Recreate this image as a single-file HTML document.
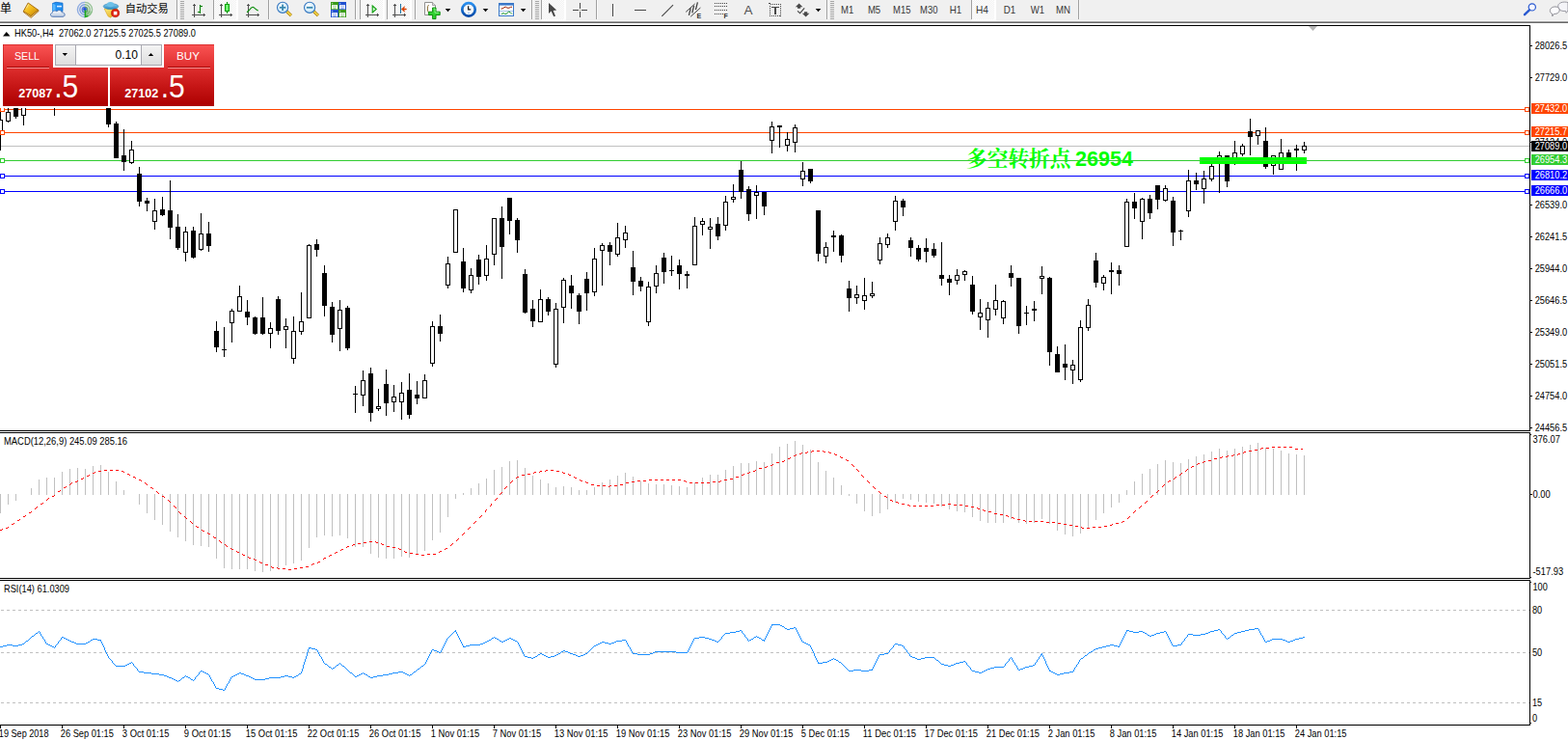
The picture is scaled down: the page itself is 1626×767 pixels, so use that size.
<!DOCTYPE html>
<html><head><meta charset="utf-8"><title>HK50-,H4</title>
<style>
html,body{margin:0;padding:0;background:#fff;}
body{width:1626px;height:767px;overflow:hidden;position:relative;font-family:"Liberation Sans",sans-serif;}
svg{display:block;}
svg text{font-family:"Liberation Sans",sans-serif;}
</style></head><body>
<svg id="chart" width="1626" height="767" viewBox="0 0 1626 767" style="position:absolute;left:0;top:0" font-family="Liberation Sans, sans-serif">
<g shape-rendering="crispEdges">
<rect x="0" y="26" width="1587" height="1" fill="#000"/>
<rect x="1586" y="26" width="1" height="726" fill="#000"/>
<rect x="0" y="446" width="1587" height="1" fill="#000"/>
<rect x="0" y="448" width="1587" height="1" fill="#000"/>
<rect x="1586" y="447" width="1" height="1" fill="#fff"/>
<rect x="0" y="599" width="1587" height="1" fill="#000"/>
<rect x="0" y="601" width="1587" height="1" fill="#000"/>
<rect x="1586" y="600" width="1" height="1" fill="#fff"/>
<rect x="0" y="751" width="1587" height="1" fill="#000"/>
<rect x="0" y="113" width="1586" height="1" fill="#ff4500"/>
<rect x="0" y="137" width="1586" height="1" fill="#ff4500"/>
<rect x="0" y="151" width="1586" height="1" fill="#c0c0c0"/>
<rect x="0" y="166" width="1586" height="1" fill="#32cd32"/>
<rect x="0" y="182" width="1586" height="1" fill="#0000ff"/>
<rect x="0" y="198" width="1586" height="1" fill="#0000ff"/>
</g>
<text x="1002" y="172.3" fill="#00ff00" font-size="21.6" text-anchor="start" font-weight="bold" textLength="108.5" lengthAdjust="spacingAndGlyphs" style="font-family:'Liberation Serif','Noto Serif CJK SC',serif">多空转折点</text>
<text x="1115" y="172.3" fill="#00ff00" font-size="21.3" text-anchor="start" font-weight="bold" textLength="60" lengthAdjust="spacingAndGlyphs">26954</text>
<g shape-rendering="crispEdges">
<rect x="1000" y="166" width="180" height="1" fill="#32cd32" opacity="0.8"/>
<rect x="0" y="100" width="1" height="56" fill="#000"/>
<rect x="-2" y="124" width="5" height="15" fill="#000"/>
<rect x="-1" y="125" width="3" height="13" fill="#fff"/>
<rect x="8" y="100" width="1" height="27" fill="#000"/>
<rect x="6" y="116" width="5" height="10" fill="#000"/>
<rect x="7" y="117" width="3" height="8" fill="#fff"/>
<rect x="16" y="100" width="1" height="23" fill="#000"/>
<rect x="14" y="100" width="5" height="21" fill="#000"/>
<rect x="24" y="100" width="1" height="30" fill="#000"/>
<rect x="22" y="100" width="5" height="20" fill="#000"/>
<rect x="23" y="101" width="3" height="18" fill="#fff"/>
<rect x="56" y="100" width="1" height="20" fill="#000"/>
<rect x="112" y="100" width="1" height="32" fill="#000"/>
<rect x="110" y="100" width="5" height="29" fill="#000"/>
<rect x="120" y="126" width="1" height="38" fill="#000"/>
<rect x="118" y="128" width="5" height="36" fill="#000"/>
<rect x="128" y="134" width="1" height="43" fill="#000"/>
<rect x="126" y="161" width="5" height="7" fill="#000"/>
<rect x="136" y="146" width="1" height="24" fill="#000"/>
<rect x="134" y="155" width="5" height="14" fill="#000"/>
<rect x="135" y="156" width="3" height="12" fill="#fff"/>
<rect x="144" y="173" width="1" height="41" fill="#000"/>
<rect x="142" y="180" width="5" height="29" fill="#000"/>
<rect x="152" y="205" width="1" height="14" fill="#000"/>
<rect x="150" y="208" width="5" height="3" fill="#000"/>
<rect x="160" y="206" width="1" height="32" fill="#000"/>
<rect x="158" y="218" width="5" height="12" fill="#000"/>
<rect x="159" y="219" width="3" height="10" fill="#fff"/>
<rect x="168" y="204" width="1" height="20" fill="#000"/>
<rect x="166" y="217" width="5" height="6" fill="#000"/>
<rect x="176" y="187" width="1" height="61" fill="#000"/>
<rect x="174" y="218" width="5" height="18" fill="#000"/>
<rect x="184" y="222" width="1" height="37" fill="#000"/>
<rect x="182" y="235" width="5" height="22" fill="#000"/>
<rect x="192" y="235" width="1" height="36" fill="#000"/>
<rect x="190" y="240" width="5" height="22" fill="#000"/>
<rect x="191" y="241" width="3" height="20" fill="#fff"/>
<rect x="200" y="235" width="1" height="33" fill="#000"/>
<rect x="198" y="239" width="5" height="28" fill="#000"/>
<rect x="208" y="221" width="1" height="39" fill="#000"/>
<rect x="206" y="242" width="5" height="17" fill="#000"/>
<rect x="207" y="243" width="3" height="15" fill="#fff"/>
<rect x="216" y="230" width="1" height="31" fill="#000"/>
<rect x="214" y="242" width="5" height="13" fill="#000"/>
<rect x="224" y="333" width="1" height="32" fill="#000"/>
<rect x="222" y="343" width="5" height="17" fill="#000"/>
<rect x="232" y="339" width="1" height="31" fill="#000"/>
<rect x="230" y="362" width="5" height="1" fill="#000"/>
<rect x="240" y="320" width="1" height="35" fill="#000"/>
<rect x="238" y="322" width="5" height="13" fill="#000"/>
<rect x="239" y="323" width="3" height="11" fill="#fff"/>
<rect x="248" y="296" width="1" height="27" fill="#000"/>
<rect x="246" y="307" width="5" height="16" fill="#000"/>
<rect x="247" y="308" width="3" height="14" fill="#fff"/>
<rect x="256" y="311" width="1" height="26" fill="#000"/>
<rect x="254" y="323" width="5" height="6" fill="#000"/>
<rect x="264" y="328" width="1" height="19" fill="#000"/>
<rect x="262" y="329" width="5" height="17" fill="#000"/>
<rect x="272" y="308" width="1" height="39" fill="#000"/>
<rect x="270" y="329" width="5" height="17" fill="#000"/>
<rect x="280" y="334" width="1" height="27" fill="#000"/>
<rect x="278" y="340" width="5" height="6" fill="#000"/>
<rect x="279" y="341" width="3" height="4" fill="#fff"/>
<rect x="288" y="307" width="1" height="40" fill="#000"/>
<rect x="286" y="310" width="5" height="33" fill="#000"/>
<rect x="296" y="330" width="1" height="31" fill="#000"/>
<rect x="294" y="338" width="5" height="4" fill="#000"/>
<rect x="295" y="339" width="3" height="2" fill="#fff"/>
<rect x="304" y="328" width="1" height="49" fill="#000"/>
<rect x="302" y="343" width="5" height="29" fill="#000"/>
<rect x="303" y="344" width="3" height="27" fill="#fff"/>
<rect x="312" y="303" width="1" height="44" fill="#000"/>
<rect x="310" y="333" width="5" height="11" fill="#000"/>
<rect x="311" y="334" width="3" height="9" fill="#fff"/>
<rect x="320" y="253" width="1" height="76" fill="#000"/>
<rect x="318" y="254" width="5" height="76" fill="#000"/>
<rect x="319" y="255" width="3" height="74" fill="#fff"/>
<rect x="328" y="248" width="1" height="18" fill="#000"/>
<rect x="326" y="253" width="5" height="6" fill="#000"/>
<rect x="336" y="275" width="1" height="53" fill="#000"/>
<rect x="334" y="283" width="5" height="34" fill="#000"/>
<rect x="344" y="313" width="1" height="42" fill="#000"/>
<rect x="342" y="318" width="5" height="29" fill="#000"/>
<rect x="352" y="311" width="1" height="53" fill="#000"/>
<rect x="350" y="321" width="5" height="20" fill="#000"/>
<rect x="351" y="322" width="3" height="18" fill="#fff"/>
<rect x="360" y="317" width="1" height="46" fill="#000"/>
<rect x="358" y="319" width="5" height="42" fill="#000"/>
<rect x="368" y="400" width="1" height="28" fill="#000"/>
<rect x="366" y="408" width="5" height="1" fill="#000"/>
<rect x="376" y="384" width="1" height="37" fill="#000"/>
<rect x="374" y="394" width="5" height="16" fill="#000"/>
<rect x="375" y="395" width="3" height="14" fill="#fff"/>
<rect x="384" y="381" width="1" height="56" fill="#000"/>
<rect x="382" y="387" width="5" height="41" fill="#000"/>
<rect x="392" y="403" width="1" height="23" fill="#000"/>
<rect x="390" y="421" width="5" height="3" fill="#000"/>
<rect x="391" y="422" width="3" height="1" fill="#fff"/>
<rect x="400" y="383" width="1" height="48" fill="#000"/>
<rect x="398" y="398" width="5" height="20" fill="#000"/>
<rect x="408" y="399" width="1" height="28" fill="#000"/>
<rect x="406" y="411" width="5" height="6" fill="#000"/>
<rect x="407" y="412" width="3" height="4" fill="#fff"/>
<rect x="416" y="396" width="1" height="39" fill="#000"/>
<rect x="414" y="407" width="5" height="10" fill="#000"/>
<rect x="415" y="408" width="3" height="8" fill="#fff"/>
<rect x="424" y="387" width="1" height="47" fill="#000"/>
<rect x="422" y="404" width="5" height="26" fill="#000"/>
<rect x="432" y="395" width="1" height="24" fill="#000"/>
<rect x="430" y="409" width="5" height="4" fill="#000"/>
<rect x="440" y="388" width="1" height="24" fill="#000"/>
<rect x="438" y="394" width="5" height="19" fill="#000"/>
<rect x="439" y="395" width="3" height="17" fill="#fff"/>
<rect x="448" y="333" width="1" height="47" fill="#000"/>
<rect x="446" y="338" width="5" height="39" fill="#000"/>
<rect x="447" y="339" width="3" height="37" fill="#fff"/>
<rect x="456" y="326" width="1" height="28" fill="#000"/>
<rect x="454" y="338" width="5" height="8" fill="#000"/>
<rect x="464" y="266" width="1" height="33" fill="#000"/>
<rect x="462" y="273" width="5" height="23" fill="#000"/>
<rect x="463" y="274" width="3" height="21" fill="#fff"/>
<rect x="472" y="217" width="1" height="44" fill="#000"/>
<rect x="470" y="217" width="5" height="45" fill="#000"/>
<rect x="471" y="218" width="3" height="43" fill="#fff"/>
<rect x="480" y="257" width="1" height="46" fill="#000"/>
<rect x="478" y="271" width="5" height="28" fill="#000"/>
<rect x="488" y="278" width="1" height="26" fill="#000"/>
<rect x="486" y="285" width="5" height="16" fill="#000"/>
<rect x="487" y="286" width="3" height="14" fill="#fff"/>
<rect x="496" y="264" width="1" height="31" fill="#000"/>
<rect x="494" y="269" width="5" height="18" fill="#000"/>
<rect x="504" y="254" width="1" height="37" fill="#000"/>
<rect x="502" y="268" width="5" height="18" fill="#000"/>
<rect x="503" y="269" width="3" height="16" fill="#fff"/>
<rect x="512" y="226" width="1" height="49" fill="#000"/>
<rect x="510" y="226" width="5" height="38" fill="#000"/>
<rect x="511" y="227" width="3" height="36" fill="#fff"/>
<rect x="520" y="214" width="1" height="75" fill="#000"/>
<rect x="518" y="226" width="5" height="30" fill="#000"/>
<rect x="528" y="205" width="1" height="38" fill="#000"/>
<rect x="526" y="205" width="5" height="24" fill="#000"/>
<rect x="536" y="226" width="1" height="36" fill="#000"/>
<rect x="534" y="228" width="5" height="21" fill="#000"/>
<rect x="544" y="279" width="1" height="46" fill="#000"/>
<rect x="542" y="284" width="5" height="40" fill="#000"/>
<rect x="552" y="311" width="1" height="28" fill="#000"/>
<rect x="550" y="320" width="5" height="13" fill="#000"/>
<rect x="560" y="300" width="1" height="33" fill="#000"/>
<rect x="558" y="310" width="5" height="24" fill="#000"/>
<rect x="559" y="311" width="3" height="22" fill="#fff"/>
<rect x="568" y="308" width="1" height="19" fill="#000"/>
<rect x="566" y="310" width="5" height="13" fill="#000"/>
<rect x="576" y="314" width="1" height="67" fill="#000"/>
<rect x="574" y="320" width="5" height="58" fill="#000"/>
<rect x="575" y="321" width="3" height="56" fill="#fff"/>
<rect x="584" y="288" width="1" height="47" fill="#000"/>
<rect x="582" y="290" width="5" height="29" fill="#000"/>
<rect x="583" y="291" width="3" height="27" fill="#fff"/>
<rect x="592" y="285" width="1" height="35" fill="#000"/>
<rect x="590" y="296" width="5" height="8" fill="#000"/>
<rect x="600" y="304" width="1" height="32" fill="#000"/>
<rect x="598" y="306" width="5" height="17" fill="#000"/>
<rect x="608" y="282" width="1" height="40" fill="#000"/>
<rect x="606" y="289" width="5" height="15" fill="#000"/>
<rect x="616" y="257" width="1" height="50" fill="#000"/>
<rect x="614" y="268" width="5" height="35" fill="#000"/>
<rect x="615" y="269" width="3" height="33" fill="#fff"/>
<rect x="624" y="252" width="1" height="44" fill="#000"/>
<rect x="622" y="254" width="5" height="6" fill="#000"/>
<rect x="623" y="255" width="3" height="4" fill="#fff"/>
<rect x="632" y="251" width="1" height="24" fill="#000"/>
<rect x="630" y="254" width="5" height="7" fill="#000"/>
<rect x="640" y="231" width="1" height="35" fill="#000"/>
<rect x="638" y="246" width="5" height="18" fill="#000"/>
<rect x="639" y="247" width="3" height="16" fill="#fff"/>
<rect x="648" y="234" width="1" height="23" fill="#000"/>
<rect x="646" y="241" width="5" height="8" fill="#000"/>
<rect x="647" y="242" width="3" height="6" fill="#fff"/>
<rect x="656" y="260" width="1" height="46" fill="#000"/>
<rect x="654" y="277" width="5" height="15" fill="#000"/>
<rect x="664" y="287" width="1" height="15" fill="#000"/>
<rect x="662" y="291" width="5" height="6" fill="#000"/>
<rect x="672" y="292" width="1" height="46" fill="#000"/>
<rect x="670" y="297" width="5" height="37" fill="#000"/>
<rect x="671" y="298" width="3" height="35" fill="#fff"/>
<rect x="680" y="275" width="1" height="29" fill="#000"/>
<rect x="678" y="283" width="5" height="14" fill="#000"/>
<rect x="679" y="284" width="3" height="12" fill="#fff"/>
<rect x="688" y="262" width="1" height="32" fill="#000"/>
<rect x="686" y="267" width="5" height="15" fill="#000"/>
<rect x="696" y="265" width="1" height="21" fill="#000"/>
<rect x="694" y="280" width="5" height="1" fill="#000"/>
<rect x="704" y="269" width="1" height="31" fill="#000"/>
<rect x="702" y="275" width="5" height="9" fill="#000"/>
<rect x="712" y="281" width="1" height="18" fill="#000"/>
<rect x="710" y="284" width="5" height="2" fill="#000"/>
<rect x="720" y="225" width="1" height="49" fill="#000"/>
<rect x="718" y="234" width="5" height="41" fill="#000"/>
<rect x="719" y="235" width="3" height="39" fill="#fff"/>
<rect x="728" y="226" width="1" height="18" fill="#000"/>
<rect x="726" y="229" width="5" height="4" fill="#000"/>
<rect x="727" y="230" width="3" height="2" fill="#fff"/>
<rect x="736" y="226" width="1" height="32" fill="#000"/>
<rect x="734" y="235" width="5" height="3" fill="#000"/>
<rect x="735" y="236" width="3" height="1" fill="#fff"/>
<rect x="744" y="225" width="1" height="24" fill="#000"/>
<rect x="742" y="232" width="5" height="13" fill="#000"/>
<rect x="752" y="203" width="1" height="36" fill="#000"/>
<rect x="750" y="209" width="5" height="25" fill="#000"/>
<rect x="751" y="210" width="3" height="23" fill="#fff"/>
<rect x="760" y="191" width="1" height="19" fill="#000"/>
<rect x="758" y="204" width="5" height="3" fill="#000"/>
<rect x="759" y="205" width="3" height="1" fill="#fff"/>
<rect x="768" y="167" width="1" height="39" fill="#000"/>
<rect x="766" y="176" width="5" height="23" fill="#000"/>
<rect x="776" y="193" width="1" height="36" fill="#000"/>
<rect x="774" y="196" width="5" height="26" fill="#000"/>
<rect x="784" y="192" width="1" height="35" fill="#000"/>
<rect x="782" y="199" width="5" height="4" fill="#000"/>
<rect x="783" y="200" width="3" height="2" fill="#fff"/>
<rect x="792" y="199" width="1" height="24" fill="#000"/>
<rect x="790" y="199" width="5" height="15" fill="#000"/>
<rect x="800" y="126" width="1" height="33" fill="#000"/>
<rect x="798" y="131" width="5" height="15" fill="#000"/>
<rect x="799" y="132" width="3" height="13" fill="#fff"/>
<rect x="808" y="130" width="1" height="23" fill="#000"/>
<rect x="806" y="130" width="5" height="2" fill="#000"/>
<rect x="816" y="137" width="1" height="20" fill="#000"/>
<rect x="814" y="144" width="5" height="7" fill="#000"/>
<rect x="815" y="145" width="3" height="5" fill="#fff"/>
<rect x="824" y="129" width="1" height="29" fill="#000"/>
<rect x="822" y="132" width="5" height="16" fill="#000"/>
<rect x="823" y="133" width="3" height="14" fill="#fff"/>
<rect x="832" y="168" width="1" height="25" fill="#000"/>
<rect x="830" y="177" width="5" height="9" fill="#000"/>
<rect x="831" y="178" width="3" height="7" fill="#fff"/>
<rect x="840" y="175" width="1" height="15" fill="#000"/>
<rect x="838" y="175" width="5" height="13" fill="#000"/>
<rect x="848" y="218" width="1" height="53" fill="#000"/>
<rect x="846" y="218" width="5" height="45" fill="#000"/>
<rect x="856" y="251" width="1" height="22" fill="#000"/>
<rect x="854" y="256" width="5" height="10" fill="#000"/>
<rect x="855" y="257" width="3" height="8" fill="#fff"/>
<rect x="864" y="239" width="1" height="22" fill="#000"/>
<rect x="862" y="244" width="5" height="2" fill="#000"/>
<rect x="872" y="243" width="1" height="29" fill="#000"/>
<rect x="870" y="244" width="5" height="21" fill="#000"/>
<rect x="880" y="291" width="1" height="32" fill="#000"/>
<rect x="878" y="299" width="5" height="10" fill="#000"/>
<rect x="888" y="296" width="1" height="19" fill="#000"/>
<rect x="886" y="305" width="5" height="4" fill="#000"/>
<rect x="887" y="306" width="3" height="2" fill="#fff"/>
<rect x="896" y="288" width="1" height="33" fill="#000"/>
<rect x="894" y="306" width="5" height="6" fill="#000"/>
<rect x="895" y="307" width="3" height="4" fill="#fff"/>
<rect x="904" y="292" width="1" height="17" fill="#000"/>
<rect x="902" y="304" width="5" height="3" fill="#000"/>
<rect x="903" y="305" width="3" height="1" fill="#fff"/>
<rect x="912" y="246" width="1" height="28" fill="#000"/>
<rect x="910" y="252" width="5" height="18" fill="#000"/>
<rect x="911" y="253" width="3" height="16" fill="#fff"/>
<rect x="920" y="242" width="1" height="15" fill="#000"/>
<rect x="918" y="246" width="5" height="8" fill="#000"/>
<rect x="919" y="247" width="3" height="6" fill="#fff"/>
<rect x="928" y="203" width="1" height="36" fill="#000"/>
<rect x="926" y="208" width="5" height="22" fill="#000"/>
<rect x="927" y="209" width="3" height="20" fill="#fff"/>
<rect x="936" y="206" width="1" height="18" fill="#000"/>
<rect x="934" y="208" width="5" height="7" fill="#000"/>
<rect x="944" y="246" width="1" height="20" fill="#000"/>
<rect x="942" y="249" width="5" height="8" fill="#000"/>
<rect x="952" y="254" width="1" height="17" fill="#000"/>
<rect x="950" y="257" width="5" height="12" fill="#000"/>
<rect x="960" y="247" width="1" height="25" fill="#000"/>
<rect x="958" y="257" width="5" height="4" fill="#000"/>
<rect x="968" y="252" width="1" height="15" fill="#000"/>
<rect x="966" y="258" width="5" height="7" fill="#000"/>
<rect x="976" y="251" width="1" height="45" fill="#000"/>
<rect x="974" y="285" width="5" height="4" fill="#000"/>
<rect x="984" y="285" width="1" height="21" fill="#000"/>
<rect x="982" y="289" width="5" height="4" fill="#000"/>
<rect x="992" y="279" width="1" height="16" fill="#000"/>
<rect x="990" y="285" width="5" height="6" fill="#000"/>
<rect x="991" y="286" width="3" height="4" fill="#fff"/>
<rect x="1000" y="280" width="1" height="11" fill="#000"/>
<rect x="998" y="281" width="5" height="4" fill="#000"/>
<rect x="999" y="282" width="3" height="2" fill="#fff"/>
<rect x="1008" y="286" width="1" height="40" fill="#000"/>
<rect x="1006" y="295" width="5" height="28" fill="#000"/>
<rect x="1016" y="310" width="1" height="32" fill="#000"/>
<rect x="1014" y="324" width="5" height="5" fill="#000"/>
<rect x="1015" y="325" width="3" height="3" fill="#fff"/>
<rect x="1024" y="313" width="1" height="37" fill="#000"/>
<rect x="1022" y="319" width="5" height="13" fill="#000"/>
<rect x="1023" y="320" width="3" height="11" fill="#fff"/>
<rect x="1032" y="295" width="1" height="32" fill="#000"/>
<rect x="1030" y="311" width="5" height="10" fill="#000"/>
<rect x="1031" y="312" width="3" height="8" fill="#fff"/>
<rect x="1040" y="311" width="1" height="25" fill="#000"/>
<rect x="1038" y="312" width="5" height="18" fill="#000"/>
<rect x="1039" y="313" width="3" height="16" fill="#fff"/>
<rect x="1048" y="275" width="1" height="22" fill="#000"/>
<rect x="1046" y="283" width="5" height="5" fill="#000"/>
<rect x="1056" y="288" width="1" height="58" fill="#000"/>
<rect x="1054" y="288" width="5" height="50" fill="#000"/>
<rect x="1064" y="317" width="1" height="20" fill="#000"/>
<rect x="1062" y="324" width="5" height="1" fill="#000"/>
<rect x="1072" y="312" width="1" height="21" fill="#000"/>
<rect x="1070" y="320" width="5" height="2" fill="#000"/>
<rect x="1080" y="276" width="1" height="29" fill="#000"/>
<rect x="1078" y="286" width="5" height="3" fill="#000"/>
<rect x="1079" y="287" width="3" height="1" fill="#fff"/>
<rect x="1088" y="287" width="1" height="92" fill="#000"/>
<rect x="1086" y="288" width="5" height="77" fill="#000"/>
<rect x="1096" y="359" width="1" height="27" fill="#000"/>
<rect x="1094" y="367" width="5" height="19" fill="#000"/>
<rect x="1104" y="357" width="1" height="37" fill="#000"/>
<rect x="1102" y="377" width="5" height="4" fill="#000"/>
<rect x="1112" y="373" width="1" height="25" fill="#000"/>
<rect x="1110" y="378" width="5" height="6" fill="#000"/>
<rect x="1111" y="379" width="3" height="4" fill="#fff"/>
<rect x="1120" y="332" width="1" height="64" fill="#000"/>
<rect x="1118" y="339" width="5" height="55" fill="#000"/>
<rect x="1119" y="340" width="3" height="53" fill="#fff"/>
<rect x="1128" y="310" width="1" height="33" fill="#000"/>
<rect x="1126" y="316" width="5" height="24" fill="#000"/>
<rect x="1127" y="317" width="3" height="22" fill="#fff"/>
<rect x="1136" y="262" width="1" height="36" fill="#000"/>
<rect x="1134" y="270" width="5" height="23" fill="#000"/>
<rect x="1144" y="285" width="1" height="16" fill="#000"/>
<rect x="1142" y="287" width="5" height="7" fill="#000"/>
<rect x="1143" y="288" width="3" height="5" fill="#fff"/>
<rect x="1152" y="272" width="1" height="33" fill="#000"/>
<rect x="1150" y="280" width="5" height="2" fill="#000"/>
<rect x="1160" y="275" width="1" height="21" fill="#000"/>
<rect x="1158" y="280" width="5" height="4" fill="#000"/>
<rect x="1168" y="206" width="1" height="49" fill="#000"/>
<rect x="1166" y="209" width="5" height="47" fill="#000"/>
<rect x="1167" y="210" width="3" height="45" fill="#fff"/>
<rect x="1176" y="200" width="1" height="27" fill="#000"/>
<rect x="1174" y="209" width="5" height="7" fill="#000"/>
<rect x="1184" y="205" width="1" height="43" fill="#000"/>
<rect x="1182" y="206" width="5" height="24" fill="#000"/>
<rect x="1183" y="207" width="3" height="22" fill="#fff"/>
<rect x="1192" y="202" width="1" height="25" fill="#000"/>
<rect x="1190" y="206" width="5" height="15" fill="#000"/>
<rect x="1200" y="192" width="1" height="25" fill="#000"/>
<rect x="1198" y="192" width="5" height="15" fill="#000"/>
<rect x="1208" y="192" width="1" height="17" fill="#000"/>
<rect x="1206" y="195" width="5" height="13" fill="#000"/>
<rect x="1207" y="196" width="3" height="11" fill="#fff"/>
<rect x="1216" y="204" width="1" height="51" fill="#000"/>
<rect x="1214" y="208" width="5" height="33" fill="#000"/>
<rect x="1224" y="238" width="1" height="11" fill="#000"/>
<rect x="1222" y="239" width="5" height="1" fill="#000"/>
<rect x="1232" y="176" width="1" height="49" fill="#000"/>
<rect x="1230" y="187" width="5" height="32" fill="#000"/>
<rect x="1231" y="188" width="3" height="30" fill="#fff"/>
<rect x="1240" y="179" width="1" height="18" fill="#000"/>
<rect x="1238" y="187" width="5" height="4" fill="#000"/>
<rect x="1248" y="177" width="1" height="34" fill="#000"/>
<rect x="1246" y="185" width="5" height="11" fill="#000"/>
<rect x="1247" y="186" width="3" height="9" fill="#fff"/>
<rect x="1256" y="168" width="1" height="20" fill="#000"/>
<rect x="1254" y="172" width="5" height="14" fill="#000"/>
<rect x="1255" y="173" width="3" height="12" fill="#fff"/>
<rect x="1264" y="157" width="1" height="43" fill="#000"/>
<rect x="1262" y="161" width="5" height="5" fill="#000"/>
<rect x="1263" y="162" width="3" height="3" fill="#fff"/>
<rect x="1272" y="161" width="1" height="33" fill="#000"/>
<rect x="1270" y="161" width="5" height="27" fill="#000"/>
<rect x="1280" y="146" width="1" height="25" fill="#000"/>
<rect x="1278" y="158" width="5" height="9" fill="#000"/>
<rect x="1279" y="159" width="3" height="7" fill="#fff"/>
<rect x="1288" y="149" width="1" height="13" fill="#000"/>
<rect x="1286" y="151" width="5" height="9" fill="#000"/>
<rect x="1287" y="152" width="3" height="7" fill="#fff"/>
<rect x="1296" y="123" width="1" height="38" fill="#000"/>
<rect x="1294" y="136" width="5" height="6" fill="#000"/>
<rect x="1304" y="135" width="1" height="15" fill="#000"/>
<rect x="1302" y="135" width="5" height="6" fill="#000"/>
<rect x="1303" y="136" width="3" height="4" fill="#fff"/>
<rect x="1312" y="132" width="1" height="43" fill="#000"/>
<rect x="1310" y="146" width="5" height="27" fill="#000"/>
<rect x="1320" y="161" width="1" height="20" fill="#000"/>
<rect x="1318" y="161" width="5" height="11" fill="#000"/>
<rect x="1319" y="162" width="3" height="9" fill="#fff"/>
<rect x="1328" y="144" width="1" height="32" fill="#000"/>
<rect x="1326" y="158" width="5" height="18" fill="#000"/>
<rect x="1327" y="159" width="3" height="16" fill="#fff"/>
<rect x="1336" y="155" width="1" height="11" fill="#000"/>
<rect x="1334" y="158" width="5" height="6" fill="#000"/>
<rect x="1344" y="150" width="1" height="27" fill="#000"/>
<rect x="1342" y="154" width="5" height="2" fill="#000"/>
<rect x="1352" y="147" width="1" height="12" fill="#000"/>
<rect x="1350" y="151" width="5" height="5" fill="#000"/>
<rect x="1351" y="152" width="3" height="3" fill="#fff"/>
<rect x="1244" y="163" width="111" height="7" fill="#00ff00"/>
<rect x="1244" y="166" width="111" height="1" fill="#2fdc2f"/>
<rect x="0.5" y="111.5" width="4" height="4" fill="#fff" stroke="#ff4500" stroke-width="1"/>
<rect x="1581.5" y="111.5" width="4" height="4" fill="#fff" stroke="#ff4500" stroke-width="1"/>
<rect x="0.5" y="135.5" width="4" height="4" fill="#fff" stroke="#ff4500" stroke-width="1"/>
<rect x="1581.5" y="135.5" width="4" height="4" fill="#fff" stroke="#ff4500" stroke-width="1"/>
<rect x="0.5" y="164.5" width="4" height="4" fill="#fff" stroke="#32cd32" stroke-width="1"/>
<rect x="1581.5" y="164.5" width="4" height="4" fill="#fff" stroke="#32cd32" stroke-width="1"/>
<rect x="0.5" y="180.5" width="4" height="4" fill="#fff" stroke="#0000ff" stroke-width="1"/>
<rect x="1581.5" y="180.5" width="4" height="4" fill="#fff" stroke="#0000ff" stroke-width="1"/>
<rect x="0.5" y="196.5" width="4" height="4" fill="#fff" stroke="#0000ff" stroke-width="1"/>
<rect x="1581.5" y="196.5" width="4" height="4" fill="#fff" stroke="#0000ff" stroke-width="1"/>
<rect x="1587" y="47" width="2" height="1" fill="#000"/>
<rect x="1587" y="80" width="2" height="1" fill="#000"/>
<rect x="1587" y="212" width="2" height="1" fill="#000"/>
<rect x="1587" y="245" width="2" height="1" fill="#000"/>
<rect x="1587" y="278" width="2" height="1" fill="#000"/>
<rect x="1587" y="311" width="2" height="1" fill="#000"/>
<rect x="1587" y="344" width="2" height="1" fill="#000"/>
<rect x="1587" y="377" width="2" height="1" fill="#000"/>
<rect x="1587" y="410" width="2" height="1" fill="#000"/>
<rect x="1587" y="443" width="2" height="1" fill="#000"/>
<rect x="1587" y="512" width="2" height="1" fill="#000"/>
<rect x="1587" y="147" width="2" height="1" fill="#000"/>
<rect x="1587" y="450" width="1" height="1" fill="#000"/>
<rect x="1587" y="598" width="1" height="1" fill="#000"/>
<rect x="1587" y="603" width="1" height="1" fill="#000"/>
<rect x="1587" y="749" width="1" height="1" fill="#000"/>
</g>
<text x="1591.7" y="50.8" fill="#000" font-size="10.4" text-anchor="start" font-weight="normal" textLength="33.4" lengthAdjust="spacingAndGlyphs">28026.5</text>
<text x="1591.7" y="83.8" fill="#000" font-size="10.4" text-anchor="start" font-weight="normal" textLength="33.4" lengthAdjust="spacingAndGlyphs">27729.0</text>
<text x="1591.7" y="215.8" fill="#000" font-size="10.4" text-anchor="start" font-weight="normal" textLength="33.4" lengthAdjust="spacingAndGlyphs">26539.0</text>
<text x="1591.7" y="248.8" fill="#000" font-size="10.4" text-anchor="start" font-weight="normal" textLength="33.4" lengthAdjust="spacingAndGlyphs">26241.5</text>
<text x="1591.7" y="281.8" fill="#000" font-size="10.4" text-anchor="start" font-weight="normal" textLength="33.4" lengthAdjust="spacingAndGlyphs">25944.0</text>
<text x="1591.7" y="314.8" fill="#000" font-size="10.4" text-anchor="start" font-weight="normal" textLength="33.4" lengthAdjust="spacingAndGlyphs">25646.5</text>
<text x="1591.7" y="347.8" fill="#000" font-size="10.4" text-anchor="start" font-weight="normal" textLength="33.4" lengthAdjust="spacingAndGlyphs">25349.0</text>
<text x="1591.7" y="380.8" fill="#000" font-size="10.4" text-anchor="start" font-weight="normal" textLength="33.4" lengthAdjust="spacingAndGlyphs">25051.5</text>
<text x="1591.7" y="413.8" fill="#000" font-size="10.4" text-anchor="start" font-weight="normal" textLength="33.4" lengthAdjust="spacingAndGlyphs">24754.0</text>
<text x="1591.7" y="446.8" fill="#000" font-size="10.4" text-anchor="start" font-weight="normal" textLength="33.4" lengthAdjust="spacingAndGlyphs">24456.5</text>
<text x="1591.7" y="150.8" fill="#000" font-size="10.4" text-anchor="start" font-weight="normal" textLength="33.4" lengthAdjust="spacingAndGlyphs">27124.0</text>
<rect x="1588" y="107" width="38" height="11" fill="#ff4500" shape-rendering="crispEdges"/>
<text x="1591.7" y="115.8" fill="#fff" font-size="10.4" text-anchor="start" font-weight="normal" textLength="33.4" lengthAdjust="spacingAndGlyphs">27432.0</text>
<rect x="1588" y="131" width="38" height="11" fill="#ff4500" shape-rendering="crispEdges"/>
<text x="1591.7" y="139.8" fill="#fff" font-size="10.4" text-anchor="start" font-weight="normal" textLength="33.4" lengthAdjust="spacingAndGlyphs">27215.7</text>
<rect x="1588" y="146" width="38" height="11" fill="#000000" shape-rendering="crispEdges"/>
<text x="1591.7" y="154.8" fill="#fff" font-size="10.4" text-anchor="start" font-weight="normal" textLength="33.4" lengthAdjust="spacingAndGlyphs">27089.0</text>
<rect x="1588" y="160" width="38" height="11" fill="#32cd32" shape-rendering="crispEdges"/>
<text x="1591.7" y="168.8" fill="#fff" font-size="10.4" text-anchor="start" font-weight="normal" textLength="33.4" lengthAdjust="spacingAndGlyphs">26954.3</text>
<rect x="1588" y="176" width="38" height="11" fill="#0000ff" shape-rendering="crispEdges"/>
<text x="1591.7" y="184.8" fill="#fff" font-size="10.4" text-anchor="start" font-weight="normal" textLength="33.4" lengthAdjust="spacingAndGlyphs">26810.2</text>
<rect x="1588" y="192" width="38" height="11" fill="#0000ff" shape-rendering="crispEdges"/>
<text x="1591.7" y="200.8" fill="#fff" font-size="10.4" text-anchor="start" font-weight="normal" textLength="33.4" lengthAdjust="spacingAndGlyphs">26666.0</text>
<path d="M1357 27 L1366 27 L1361.5 32 Z" fill="#b4b4b4"/>
<g shape-rendering="crispEdges">
<rect x="0" y="512" width="1" height="20" fill="#c0c0c0"/>
<rect x="8" y="512" width="1" height="11" fill="#c0c0c0"/>
<rect x="16" y="512" width="1" height="7" fill="#c0c0c0"/>
<rect x="32" y="506" width="1" height="7" fill="#c0c0c0"/>
<rect x="40" y="497" width="1" height="16" fill="#c0c0c0"/>
<rect x="48" y="495" width="1" height="18" fill="#c0c0c0"/>
<rect x="56" y="495" width="1" height="18" fill="#c0c0c0"/>
<rect x="64" y="489" width="1" height="24" fill="#c0c0c0"/>
<rect x="72" y="486" width="1" height="27" fill="#c0c0c0"/>
<rect x="80" y="485" width="1" height="28" fill="#c0c0c0"/>
<rect x="88" y="486" width="1" height="27" fill="#c0c0c0"/>
<rect x="96" y="483" width="1" height="30" fill="#c0c0c0"/>
<rect x="104" y="482" width="1" height="31" fill="#c0c0c0"/>
<rect x="112" y="489" width="1" height="24" fill="#c0c0c0"/>
<rect x="120" y="499" width="1" height="14" fill="#c0c0c0"/>
<rect x="128" y="508" width="1" height="5" fill="#c0c0c0"/>
<rect x="144" y="512" width="1" height="11" fill="#c0c0c0"/>
<rect x="152" y="512" width="1" height="20" fill="#c0c0c0"/>
<rect x="160" y="512" width="1" height="27" fill="#c0c0c0"/>
<rect x="168" y="512" width="1" height="32" fill="#c0c0c0"/>
<rect x="176" y="512" width="1" height="39" fill="#c0c0c0"/>
<rect x="184" y="512" width="1" height="45" fill="#c0c0c0"/>
<rect x="192" y="512" width="1" height="49" fill="#c0c0c0"/>
<rect x="200" y="512" width="1" height="53" fill="#c0c0c0"/>
<rect x="208" y="512" width="1" height="54" fill="#c0c0c0"/>
<rect x="216" y="512" width="1" height="55" fill="#c0c0c0"/>
<rect x="224" y="512" width="1" height="67" fill="#c0c0c0"/>
<rect x="232" y="512" width="1" height="77" fill="#c0c0c0"/>
<rect x="240" y="512" width="1" height="78" fill="#c0c0c0"/>
<rect x="248" y="512" width="1" height="78" fill="#c0c0c0"/>
<rect x="256" y="512" width="1" height="78" fill="#c0c0c0"/>
<rect x="264" y="512" width="1" height="80" fill="#c0c0c0"/>
<rect x="272" y="512" width="1" height="81" fill="#c0c0c0"/>
<rect x="280" y="512" width="1" height="80" fill="#c0c0c0"/>
<rect x="288" y="512" width="1" height="77" fill="#c0c0c0"/>
<rect x="296" y="512" width="1" height="74" fill="#c0c0c0"/>
<rect x="304" y="512" width="1" height="72" fill="#c0c0c0"/>
<rect x="312" y="512" width="1" height="69" fill="#c0c0c0"/>
<rect x="320" y="512" width="1" height="56" fill="#c0c0c0"/>
<rect x="328" y="512" width="1" height="45" fill="#c0c0c0"/>
<rect x="336" y="512" width="1" height="43" fill="#c0c0c0"/>
<rect x="344" y="512" width="1" height="44" fill="#c0c0c0"/>
<rect x="352" y="512" width="1" height="43" fill="#c0c0c0"/>
<rect x="360" y="512" width="1" height="46" fill="#c0c0c0"/>
<rect x="368" y="512" width="1" height="55" fill="#c0c0c0"/>
<rect x="376" y="512" width="1" height="55" fill="#c0c0c0"/>
<rect x="384" y="512" width="1" height="62" fill="#c0c0c0"/>
<rect x="392" y="512" width="1" height="66" fill="#c0c0c0"/>
<rect x="400" y="512" width="1" height="67" fill="#c0c0c0"/>
<rect x="408" y="512" width="1" height="67" fill="#c0c0c0"/>
<rect x="416" y="512" width="1" height="65" fill="#c0c0c0"/>
<rect x="424" y="512" width="1" height="66" fill="#c0c0c0"/>
<rect x="432" y="512" width="1" height="63" fill="#c0c0c0"/>
<rect x="440" y="512" width="1" height="59" fill="#c0c0c0"/>
<rect x="448" y="512" width="1" height="48" fill="#c0c0c0"/>
<rect x="456" y="512" width="1" height="40" fill="#c0c0c0"/>
<rect x="464" y="512" width="1" height="24" fill="#c0c0c0"/>
<rect x="472" y="512" width="1" height="5" fill="#c0c0c0"/>
<rect x="480" y="511" width="1" height="2" fill="#c0c0c0"/>
<rect x="488" y="506" width="1" height="7" fill="#c0c0c0"/>
<rect x="496" y="501" width="1" height="12" fill="#c0c0c0"/>
<rect x="504" y="496" width="1" height="17" fill="#c0c0c0"/>
<rect x="512" y="487" width="1" height="26" fill="#c0c0c0"/>
<rect x="520" y="484" width="1" height="29" fill="#c0c0c0"/>
<rect x="528" y="478" width="1" height="35" fill="#c0c0c0"/>
<rect x="536" y="477" width="1" height="36" fill="#c0c0c0"/>
<rect x="544" y="485" width="1" height="28" fill="#c0c0c0"/>
<rect x="552" y="493" width="1" height="20" fill="#c0c0c0"/>
<rect x="560" y="497" width="1" height="16" fill="#c0c0c0"/>
<rect x="568" y="501" width="1" height="12" fill="#c0c0c0"/>
<rect x="576" y="505" width="1" height="8" fill="#c0c0c0"/>
<rect x="584" y="504" width="1" height="9" fill="#c0c0c0"/>
<rect x="592" y="505" width="1" height="8" fill="#c0c0c0"/>
<rect x="600" y="508" width="1" height="5" fill="#c0c0c0"/>
<rect x="608" y="508" width="1" height="5" fill="#c0c0c0"/>
<rect x="616" y="505" width="1" height="8" fill="#c0c0c0"/>
<rect x="624" y="500" width="1" height="13" fill="#c0c0c0"/>
<rect x="632" y="497" width="1" height="16" fill="#c0c0c0"/>
<rect x="640" y="493" width="1" height="20" fill="#c0c0c0"/>
<rect x="648" y="490" width="1" height="23" fill="#c0c0c0"/>
<rect x="656" y="494" width="1" height="19" fill="#c0c0c0"/>
<rect x="664" y="499" width="1" height="14" fill="#c0c0c0"/>
<rect x="672" y="501" width="1" height="12" fill="#c0c0c0"/>
<rect x="680" y="502" width="1" height="11" fill="#c0c0c0"/>
<rect x="688" y="502" width="1" height="11" fill="#c0c0c0"/>
<rect x="696" y="503" width="1" height="10" fill="#c0c0c0"/>
<rect x="704" y="504" width="1" height="9" fill="#c0c0c0"/>
<rect x="712" y="505" width="1" height="8" fill="#c0c0c0"/>
<rect x="720" y="500" width="1" height="13" fill="#c0c0c0"/>
<rect x="728" y="495" width="1" height="18" fill="#c0c0c0"/>
<rect x="736" y="492" width="1" height="21" fill="#c0c0c0"/>
<rect x="744" y="492" width="1" height="21" fill="#c0c0c0"/>
<rect x="752" y="487" width="1" height="26" fill="#c0c0c0"/>
<rect x="760" y="483" width="1" height="30" fill="#c0c0c0"/>
<rect x="768" y="480" width="1" height="33" fill="#c0c0c0"/>
<rect x="776" y="480" width="1" height="33" fill="#c0c0c0"/>
<rect x="784" y="478" width="1" height="35" fill="#c0c0c0"/>
<rect x="792" y="479" width="1" height="34" fill="#c0c0c0"/>
<rect x="800" y="470" width="1" height="43" fill="#c0c0c0"/>
<rect x="808" y="463" width="1" height="50" fill="#c0c0c0"/>
<rect x="816" y="460" width="1" height="53" fill="#c0c0c0"/>
<rect x="824" y="457" width="1" height="56" fill="#c0c0c0"/>
<rect x="832" y="461" width="1" height="52" fill="#c0c0c0"/>
<rect x="840" y="466" width="1" height="47" fill="#c0c0c0"/>
<rect x="848" y="479" width="1" height="34" fill="#c0c0c0"/>
<rect x="856" y="488" width="1" height="25" fill="#c0c0c0"/>
<rect x="864" y="495" width="1" height="18" fill="#c0c0c0"/>
<rect x="872" y="503" width="1" height="10" fill="#c0c0c0"/>
<rect x="880" y="512" width="1" height="2" fill="#c0c0c0"/>
<rect x="888" y="512" width="1" height="10" fill="#c0c0c0"/>
<rect x="896" y="512" width="1" height="18" fill="#c0c0c0"/>
<rect x="904" y="512" width="1" height="23" fill="#c0c0c0"/>
<rect x="912" y="512" width="1" height="20" fill="#c0c0c0"/>
<rect x="920" y="512" width="1" height="16" fill="#c0c0c0"/>
<rect x="928" y="512" width="1" height="9" fill="#c0c0c0"/>
<rect x="936" y="512" width="1" height="5" fill="#c0c0c0"/>
<rect x="944" y="512" width="1" height="6" fill="#c0c0c0"/>
<rect x="952" y="512" width="1" height="8" fill="#c0c0c0"/>
<rect x="960" y="512" width="1" height="9" fill="#c0c0c0"/>
<rect x="968" y="512" width="1" height="10" fill="#c0c0c0"/>
<rect x="976" y="512" width="1" height="13" fill="#c0c0c0"/>
<rect x="984" y="512" width="1" height="16" fill="#c0c0c0"/>
<rect x="992" y="512" width="1" height="18" fill="#c0c0c0"/>
<rect x="1000" y="512" width="1" height="19" fill="#c0c0c0"/>
<rect x="1008" y="512" width="1" height="24" fill="#c0c0c0"/>
<rect x="1016" y="512" width="1" height="28" fill="#c0c0c0"/>
<rect x="1024" y="512" width="1" height="30" fill="#c0c0c0"/>
<rect x="1032" y="512" width="1" height="30" fill="#c0c0c0"/>
<rect x="1040" y="512" width="1" height="30" fill="#c0c0c0"/>
<rect x="1048" y="512" width="1" height="26" fill="#c0c0c0"/>
<rect x="1056" y="512" width="1" height="30" fill="#c0c0c0"/>
<rect x="1064" y="512" width="1" height="31" fill="#c0c0c0"/>
<rect x="1072" y="512" width="1" height="30" fill="#c0c0c0"/>
<rect x="1080" y="512" width="1" height="26" fill="#c0c0c0"/>
<rect x="1088" y="512" width="1" height="31" fill="#c0c0c0"/>
<rect x="1096" y="512" width="1" height="38" fill="#c0c0c0"/>
<rect x="1104" y="512" width="1" height="42" fill="#c0c0c0"/>
<rect x="1112" y="512" width="1" height="44" fill="#c0c0c0"/>
<rect x="1120" y="512" width="1" height="41" fill="#c0c0c0"/>
<rect x="1128" y="512" width="1" height="36" fill="#c0c0c0"/>
<rect x="1136" y="512" width="1" height="27" fill="#c0c0c0"/>
<rect x="1144" y="512" width="1" height="20" fill="#c0c0c0"/>
<rect x="1152" y="512" width="1" height="14" fill="#c0c0c0"/>
<rect x="1160" y="512" width="1" height="9" fill="#c0c0c0"/>
<rect x="1168" y="508" width="1" height="5" fill="#c0c0c0"/>
<rect x="1176" y="499" width="1" height="14" fill="#c0c0c0"/>
<rect x="1184" y="491" width="1" height="22" fill="#c0c0c0"/>
<rect x="1192" y="486" width="1" height="27" fill="#c0c0c0"/>
<rect x="1200" y="481" width="1" height="32" fill="#c0c0c0"/>
<rect x="1208" y="477" width="1" height="36" fill="#c0c0c0"/>
<rect x="1216" y="479" width="1" height="34" fill="#c0c0c0"/>
<rect x="1224" y="480" width="1" height="33" fill="#c0c0c0"/>
<rect x="1232" y="476" width="1" height="37" fill="#c0c0c0"/>
<rect x="1240" y="473" width="1" height="40" fill="#c0c0c0"/>
<rect x="1248" y="471" width="1" height="42" fill="#c0c0c0"/>
<rect x="1256" y="468" width="1" height="45" fill="#c0c0c0"/>
<rect x="1264" y="465" width="1" height="48" fill="#c0c0c0"/>
<rect x="1272" y="467" width="1" height="46" fill="#c0c0c0"/>
<rect x="1280" y="465" width="1" height="48" fill="#c0c0c0"/>
<rect x="1288" y="463" width="1" height="50" fill="#c0c0c0"/>
<rect x="1296" y="461" width="1" height="52" fill="#c0c0c0"/>
<rect x="1304" y="459" width="1" height="54" fill="#c0c0c0"/>
<rect x="1312" y="464" width="1" height="49" fill="#c0c0c0"/>
<rect x="1320" y="465" width="1" height="48" fill="#c0c0c0"/>
<rect x="1328" y="467" width="1" height="46" fill="#c0c0c0"/>
<rect x="1336" y="470" width="1" height="43" fill="#c0c0c0"/>
<rect x="1344" y="471" width="1" height="42" fill="#c0c0c0"/>
<rect x="1352" y="472" width="1" height="41" fill="#c0c0c0"/>
</g>
<path d="M503 529h1v2h-1zM509 522h1v2h-1zM1319 463h3v1h-3zM1325 463h3v1h-3zM1331 463h3v1h-3zM1337 463h3v1h-3zM1308 464h2v1h-2zM1313 464h3v1h-3zM1307 465h1v1h-1zM1343 465h3v1h-3zM1349 465h2v1h-2zM1301 466h3v1h-3zM842 467h2v1h-2zM847 467h3v1h-3zM853 467h1v1h-1zM1295 467h3v1h-3zM837 468h1v1h-1zM841 468h1v1h-1zM854 468h2v1h-2zM859 468h1v1h-1zM1290 468h2v1h-2zM831 469h1v1h-1zM835 469h2v1h-2zM860 469h2v1h-2zM1289 469h1v1h-1zM829 470h2v1h-2zM865 470h1v1h-1zM1284 470h2v1h-2zM825 471h1v1h-1zM866 471h2v1h-2zM1279 471h1v1h-1zM1283 471h1v1h-1zM823 472h2v1h-2zM1273 472h1v1h-1zM1277 472h2v1h-2zM871 473h1v1h-1zM1267 473h1v1h-1zM1271 473h2v1h-2zM819 474h1v1h-1zM872 474h2v1h-2zM1265 474h2v1h-2zM817 475h2v1h-2zM1259 475h3v1h-3zM877 476h1v1h-1zM813 477h1v1h-1zM878 477h2v1h-2zM1253 477h3v1h-3zM811 478h2v1h-2zM1248 478h2v1h-2zM805 479h3v1h-3zM1247 479h1v1h-1zM1242 480h2v1h-2zM801 481h1v1h-1zM883 481h1v1h-1zM1241 481h1v1h-1zM799 482h2v1h-2zM884 482h1v1h-1zM795 483h1v1h-1zM885 483h1v1h-1zM1236 483h2v1h-2zM793 484h2v1h-2zM1235 484h1v1h-1zM787 485h3v1h-3zM888 486h1v1h-1zM1231 486h1v1h-1zM108 487h3v1h-3zM114 487h3v1h-3zM120 487h3v1h-3zM566 487h2v1h-2zM571 487h3v1h-3zM783 487h1v1h-1zM889 487h1v1h-1zM1230 487h1v1h-1zM102 488h3v1h-3zM126 488h2v1h-2zM560 488h2v1h-2zM565 488h1v1h-1zM577 488h3v1h-3zM781 488h2v1h-2zM890 488h1v1h-1zM1229 488h1v1h-1zM98 489h1v1h-1zM128 489h1v1h-1zM554 489h2v1h-2zM559 489h1v1h-1zM583 489h1v1h-1zM777 489h1v1h-1zM96 490h2v1h-2zM553 490h1v1h-1zM584 490h2v1h-2zM775 490h2v1h-2zM1225 490h1v1h-1zM132 491h2v1h-2zM547 491h3v1h-3zM589 491h1v1h-1zM771 491h1v1h-1zM1224 491h1v1h-1zM92 492h1v1h-1zM134 492h1v1h-1zM541 492h3v1h-3zM590 492h2v1h-2zM769 492h2v1h-2zM893 492h1v1h-1zM1223 492h1v1h-1zM90 493h2v1h-2zM894 493h1v1h-1zM138 494h2v1h-2zM536 494h2v1h-2zM595 494h1v1h-1zM763 494h3v1h-3zM895 494h1v1h-1zM1219 494h1v1h-1zM86 495h1v1h-1zM140 495h1v1h-1zM535 495h1v1h-1zM596 495h2v1h-2zM1218 495h1v1h-1zM84 496h2v1h-2zM757 496h3v1h-3zM1217 496h1v1h-1zM144 497h2v1h-2zM601 497h1v1h-1zM673 497h3v1h-3zM679 497h3v1h-3zM685 497h3v1h-3zM691 497h3v1h-3zM697 497h3v1h-3zM703 497h3v1h-3zM751 497h3v1h-3zM80 498h1v1h-1zM146 498h1v1h-1zM531 498h1v1h-1zM602 498h2v1h-2zM661 498h3v1h-3zM667 498h3v1h-3zM709 498h2v1h-2zM747 498h1v1h-1zM899 498h1v1h-1zM1212 498h2v1h-2zM78 499h2v1h-2zM530 499h1v1h-1zM607 499h1v1h-1zM655 499h3v1h-3zM711 499h1v1h-1zM739 499h3v1h-3zM745 499h2v1h-2zM900 499h1v1h-1zM1211 499h1v1h-1zM74 500h1v1h-1zM150 500h1v1h-1zM529 500h1v1h-1zM608 500h2v1h-2zM649 500h3v1h-3zM715 500h3v1h-3zM721 500h3v1h-3zM727 500h3v1h-3zM733 500h3v1h-3zM901 500h1v1h-1zM73 501h1v1h-1zM151 501h1v1h-1zM72 502h1v1h-1zM152 502h1v1h-1zM613 502h3v1h-3zM643 502h3v1h-3zM1207 502h1v1h-1zM619 503h3v1h-3zM625 503h3v1h-3zM632 503h2v1h-2zM637 503h3v1h-3zM1206 503h1v1h-1zM68 504h1v1h-1zM525 504h1v1h-1zM631 504h1v1h-1zM905 504h1v1h-1zM1205 504h1v1h-1zM66 505h2v1h-2zM156 505h2v1h-2zM524 505h1v1h-1zM906 505h1v1h-1zM158 506h1v1h-1zM523 506h1v1h-1zM907 506h1v1h-1zM62 508h1v1h-1zM1201 508h1v1h-1zM60 509h2v1h-2zM162 509h1v1h-1zM911 509h1v1h-1zM1200 509h1v1h-1zM163 510h1v1h-1zM520 510h1v1h-1zM912 510h1v1h-1zM1199 510h1v1h-1zM164 511h1v1h-1zM519 511h1v1h-1zM913 511h1v1h-1zM518 512h1v1h-1zM56 513h1v1h-1zM1195 513h1v1h-1zM54 514h2v1h-2zM168 514h2v1h-2zM917 514h2v1h-2zM1194 514h1v1h-1zM170 515h1v1h-1zM919 515h1v1h-1zM1193 515h1v1h-1zM50 516h1v1h-1zM515 516h1v1h-1zM49 517h1v1h-1zM514 517h1v1h-1zM48 518h1v1h-1zM174 518h1v1h-1zM513 518h1v1h-1zM923 518h2v1h-2zM175 519h1v1h-1zM925 519h1v1h-1zM1189 519h1v1h-1zM176 520h1v1h-1zM929 520h2v1h-2zM1188 520h1v1h-1zM44 521h1v1h-1zM931 521h1v1h-1zM1187 521h1v1h-1zM42 522h2v1h-2zM935 522h3v1h-3zM983 522h3v1h-3zM941 523h2v1h-2zM971 523h3v1h-3zM977 523h3v1h-3zM989 523h3v1h-3zM995 523h3v1h-3zM180 524h1v1h-1zM508 524h1v1h-1zM943 524h1v1h-1zM947 524h3v1h-3zM953 524h3v1h-3zM959 524h3v1h-3zM965 524h3v1h-3zM1001 524h3v1h-3zM1183 524h1v1h-1zM38 525h1v1h-1zM181 525h1v1h-1zM1007 525h3v1h-3zM1182 525h1v1h-1zM37 526h1v1h-1zM182 526h1v1h-1zM1013 526h1v1h-1zM1181 526h1v1h-1zM36 527h1v1h-1zM1014 527h2v1h-2zM504 528h1v1h-1zM1019 528h1v1h-1zM1020 529h2v1h-2zM1177 529h1v1h-1zM32 530h1v1h-1zM185 530h1v1h-1zM1025 530h3v1h-3zM1176 530h1v1h-1zM30 531h2v1h-2zM186 531h1v1h-1zM1175 531h1v1h-1zM187 532h1v1h-1zM1031 532h3v1h-3zM1037 533h3v1h-3zM26 534h1v1h-1zM499 534h1v1h-1zM1043 534h2v1h-2zM24 535h2v1h-2zM191 535h1v1h-1zM498 535h1v1h-1zM1045 535h1v1h-1zM1171 535h1v1h-1zM192 536h1v1h-1zM497 536h1v1h-1zM1049 536h2v1h-2zM1170 536h1v1h-1zM193 537h1v1h-1zM1051 537h1v1h-1zM1169 537h1v1h-1zM20 538h1v1h-1zM1055 538h3v1h-3zM18 539h2v1h-2zM1061 539h2v1h-2zM197 540h1v1h-1zM493 540h1v1h-1zM1063 540h1v1h-1zM1067 540h3v1h-3zM1073 540h3v1h-3zM1079 540h3v1h-3zM1164 540h2v1h-2zM198 541h1v1h-1zM492 541h1v1h-1zM1085 541h3v1h-3zM1091 541h3v1h-3zM1163 541h1v1h-1zM14 542h1v1h-1zM199 542h1v1h-1zM491 542h1v1h-1zM1097 542h3v1h-3zM1157 542h3v1h-3zM12 543h2v1h-2zM1103 543h3v1h-3zM1153 543h1v1h-1zM1109 544h3v1h-3zM1151 544h2v1h-2zM203 545h1v1h-1zM1115 545h3v1h-3zM1145 545h3v1h-3zM8 546h1v1h-1zM204 546h2v1h-2zM487 546h1v1h-1zM1121 546h1v1h-1zM1133 546h3v1h-3zM1139 546h3v1h-3zM6 547h2v1h-2zM486 547h1v1h-1zM1122 547h2v1h-2zM1127 547h3v1h-3zM2 548h1v1h-1zM485 548h1v1h-1zM0 549h2v1h-2zM209 549h1v1h-1zM210 550h2v1h-2zM215 552h1v1h-1zM481 552h1v1h-1zM216 553h2v1h-2zM480 553h1v1h-1zM479 554h1v1h-1zM221 556h1v1h-1zM222 557h2v1h-2zM475 558h1v1h-1zM474 559h1v1h-1zM227 560h1v1h-1zM473 560h1v1h-1zM228 561h1v1h-1zM383 561h3v1h-3zM389 561h1v1h-1zM229 562h1v1h-1zM377 562h3v1h-3zM390 562h2v1h-2zM371 563h3v1h-3zM395 563h1v1h-1zM469 563h1v1h-1zM233 564h1v1h-1zM366 564h2v1h-2zM396 564h2v1h-2zM468 564h1v1h-1zM234 565h1v1h-1zM365 565h1v1h-1zM467 565h1v1h-1zM235 566h1v1h-1zM360 566h2v1h-2zM401 566h3v1h-3zM359 567h1v1h-1zM407 567h3v1h-3zM239 568h1v1h-1zM413 568h1v1h-1zM462 568h2v1h-2zM240 569h2v1h-2zM354 569h2v1h-2zM414 569h2v1h-2zM461 569h1v1h-1zM353 570h1v1h-1zM245 571h1v1h-1zM419 571h1v1h-1zM456 571h2v1h-2zM246 572h2v1h-2zM348 572h2v1h-2zM420 572h2v1h-2zM455 572h1v1h-1zM347 573h1v1h-1zM425 573h3v1h-3zM251 574h1v1h-1zM431 574h3v1h-3zM443 574h3v1h-3zM449 574h3v1h-3zM252 575h2v1h-2zM342 575h2v1h-2zM437 575h3v1h-3zM341 576h1v1h-1zM257 577h1v1h-1zM258 578h2v1h-2zM336 578h2v1h-2zM263 579h1v1h-1zM335 579h1v1h-1zM264 580h2v1h-2zM269 582h1v1h-1zM330 582h2v1h-2zM270 583h2v1h-2zM329 583h1v1h-1zM324 584h2v1h-2zM275 585h3v1h-3zM323 585h1v1h-1zM281 587h1v1h-1zM317 587h3v1h-3zM282 588h2v1h-2zM287 588h1v1h-1zM311 588h3v1h-3zM288 589h2v1h-2zM293 589h3v1h-3zM305 589h3v1h-3zM299 590h3v1h-3z" fill="#ff0000" shape-rendering="crispEdges"/>
<text x="4" y="460.5" fill="#000" font-size="10.4" text-anchor="start" font-weight="normal" textLength="128" lengthAdjust="spacingAndGlyphs">MACD(12,26,9) 245.09 285.16</text>
<text x="1589.5" y="458.5" fill="#000" font-size="10.4" text-anchor="start" font-weight="normal" textLength="28.4" lengthAdjust="spacingAndGlyphs">376.07</text>
<text x="1589.5" y="515.8" fill="#000" font-size="10.4" text-anchor="start" font-weight="normal" textLength="18.2" lengthAdjust="spacingAndGlyphs">0.00</text>
<text x="1589.5" y="595.9" fill="#000" font-size="10.4" text-anchor="start" font-weight="normal" textLength="31.6" lengthAdjust="spacingAndGlyphs">-517.93</text>
<g shape-rendering="crispEdges">
<line x1="1" y1="632.5" x2="1586" y2="632.5" stroke="#c0c0c0" stroke-width="1" stroke-dasharray="3 3"/>
<line x1="1" y1="676.5" x2="1586" y2="676.5" stroke="#c0c0c0" stroke-width="1" stroke-dasharray="3 3"/>
<line x1="1" y1="728.5" x2="1586" y2="728.5" stroke="#c0c0c0" stroke-width="1" stroke-dasharray="3 3"/>
</g>
<path d="M41 655h1v2h-1zM42 657h1v2h-1zM44 660h1v2h-1zM46 663h1v2h-1zM47 665h1v2h-1zM57 669h1v2h-1zM60 665h1v2h-1zM63 661h1v2h-1zM104 663h1v2h-1zM105 665h1v2h-1zM106 667h1v2h-1zM107 669h1v2h-1zM108 671h1v3h-1zM109 674h1v2h-1zM110 676h1v2h-1zM111 678h1v2h-1zM112 680h1v2h-1zM116 685h1v2h-1zM138 688h1v2h-1zM142 693h1v2h-1zM202 702h1v2h-1zM206 697h1v2h-1zM217 700h1v2h-1zM218 702h1v2h-1zM219 704h1v2h-1zM221 707h1v2h-1zM222 709h1v2h-1zM223 711h1v2h-1zM233 713h1v2h-1zM234 711h1v2h-1zM235 709h1v2h-1zM237 706h1v2h-1zM238 704h1v2h-1zM239 702h1v2h-1zM312 696h1v2h-1zM313 693h1v3h-1zM314 689h1v4h-1zM315 686h1v3h-1zM316 683h1v3h-1zM317 680h1v3h-1zM318 676h1v4h-1zM319 673h1v3h-1zM320 671h1v2h-1zM329 674h1v2h-1zM330 676h1v2h-1zM331 678h1v2h-1zM333 681h1v2h-1zM334 683h1v2h-1zM335 685h1v2h-1zM441 686h1v2h-1zM442 684h1v2h-1zM443 682h1v2h-1zM444 680h1v2h-1zM445 678h1v2h-1zM446 676h1v2h-1zM447 674h1v2h-1zM457 674h1v2h-1zM458 672h1v2h-1zM459 670h1v2h-1zM460 668h1v2h-1zM461 666h1v2h-1zM462 664h1v2h-1zM463 662h1v2h-1zM472 653h1v2h-1zM473 655h1v2h-1zM474 657h1v2h-1zM475 659h1v2h-1zM476 661h1v2h-1zM477 663h1v2h-1zM478 665h1v2h-1zM479 667h1v2h-1zM480 669h1v2h-1zM537 666h1v2h-1zM538 668h1v2h-1zM539 670h1v2h-1zM540 672h1v2h-1zM541 674h1v2h-1zM542 676h1v2h-1zM543 678h1v2h-1zM649 664h1v2h-1zM650 666h1v2h-1zM651 668h1v2h-1zM653 671h1v2h-1zM654 673h1v2h-1zM655 675h1v2h-1zM713 674h1v2h-1zM714 672h1v2h-1zM715 670h1v2h-1zM716 668h1v2h-1zM717 666h1v2h-1zM718 664h1v2h-1zM719 662h1v2h-1zM748 660h1v2h-1zM769 654h1v2h-1zM772 658h1v2h-1zM775 662h1v2h-1zM792 663h1v2h-1zM793 661h1v2h-1zM794 659h1v2h-1zM795 657h1v2h-1zM796 655h1v2h-1zM797 653h1v2h-1zM798 651h1v2h-1zM799 649h1v2h-1zM800 647h1v2h-1zM825 651h1v2h-1zM826 653h1v2h-1zM827 655h1v2h-1zM828 657h1v2h-1zM829 659h1v2h-1zM830 661h1v2h-1zM831 663h1v2h-1zM840 669h1v2h-1zM841 671h1v2h-1zM842 673h1v2h-1zM843 675h1v2h-1zM844 677h1v3h-1zM845 680h1v2h-1zM846 682h1v2h-1zM847 684h1v2h-1zM848 686h1v2h-1zM904 693h1v2h-1zM905 691h1v2h-1zM906 689h1v2h-1zM907 687h1v2h-1zM908 685h1v2h-1zM909 683h1v2h-1zM910 681h1v2h-1zM911 679h1v2h-1zM922 674h1v2h-1zM926 669h1v2h-1zM937 670h1v2h-1zM940 674h1v2h-1zM943 678h1v2h-1zM1002 687h1v2h-1zM1006 692h1v2h-1zM1042 688h1v2h-1zM1046 683h1v2h-1zM1049 682h1v2h-1zM1050 684h1v2h-1zM1052 687h1v2h-1zM1054 690h1v2h-1zM1055 692h1v2h-1zM1073 687h1v2h-1zM1075 684h1v2h-1zM1077 681h1v2h-1zM1079 678h1v2h-1zM1080 677h1v2h-1zM1081 679h1v2h-1zM1082 681h1v2h-1zM1083 683h1v2h-1zM1084 685h1v3h-1zM1085 688h1v2h-1zM1086 690h1v2h-1zM1087 692h1v2h-1zM1088 694h1v2h-1zM1113 694h1v2h-1zM1114 692h1v2h-1zM1116 689h1v2h-1zM1118 686h1v2h-1zM1119 684h1v2h-1zM1160 669h1v2h-1zM1161 667h1v2h-1zM1162 665h1v2h-1zM1163 663h1v2h-1zM1164 661h1v2h-1zM1165 659h1v2h-1zM1166 657h1v2h-1zM1167 655h1v2h-1zM1168 653h1v2h-1zM1209 655h1v2h-1zM1210 657h1v2h-1zM1211 659h1v2h-1zM1212 661h1v2h-1zM1213 663h1v2h-1zM1214 665h1v2h-1zM1215 667h1v2h-1zM1225 666h1v2h-1zM1228 662h1v2h-1zM1231 658h1v2h-1zM1266 654h1v2h-1zM1270 659h1v2h-1zM1305 652h1v2h-1zM1306 654h1v2h-1zM1307 656h1v2h-1zM1309 659h1v2h-1zM1310 661h1v2h-1zM1311 663h1v2h-1zM801 647h8v1h-8zM809 648h2v1h-2zM811 649h2v1h-2zM813 650h1v1h-1zM823 650h2v1h-2zM814 651h2v1h-2zM819 651h4v1h-4zM1301 651h4v1h-4zM816 652h3v1h-3zM1263 652h2v1h-2zM1295 652h6v1h-6zM767 653h2v1h-2zM1169 653h2v1h-2zM1259 653h4v1h-4zM1265 653h1v1h-1zM1291 653h4v1h-4zM40 654h1v1h-1zM471 654h1v1h-1zM763 654h4v1h-4zM1171 654h4v1h-4zM1181 654h4v1h-4zM1207 654h2v1h-2zM1255 654h4v1h-4zM1287 654h4v1h-4zM39 655h1v1h-1zM470 655h1v1h-1zM757 655h6v1h-6zM1175 655h6v1h-6zM1185 655h2v1h-2zM1203 655h4v1h-4zM1253 655h2v1h-2zM1283 655h4v1h-4zM37 656h2v1h-2zM469 656h1v1h-1zM752 656h5v1h-5zM770 656h1v1h-1zM1187 656h2v1h-2zM1199 656h4v1h-4zM1250 656h3v1h-3zM1267 656h1v1h-1zM1280 656h3v1h-3zM36 657h1v1h-1zM468 657h1v1h-1zM751 657h1v1h-1zM771 657h1v1h-1zM1189 657h1v1h-1zM1197 657h2v1h-2zM1232 657h5v1h-5zM1245 657h5v1h-5zM1268 657h1v1h-1zM1279 657h1v1h-1zM35 658h1v1h-1zM467 658h1v1h-1zM750 658h1v1h-1zM1190 658h2v1h-2zM1194 658h3v1h-3zM1237 658h8v1h-8zM1269 658h1v1h-1zM1277 658h2v1h-2zM1308 658h1v1h-1zM33 659h2v1h-2zM43 659h1v1h-1zM466 659h1v1h-1zM749 659h1v1h-1zM784 659h1v1h-1zM1192 659h2v1h-2zM1276 659h1v1h-1zM32 660h1v1h-1zM64 660h2v1h-2zM465 660h1v1h-1zM512 660h1v1h-1zM725 660h6v1h-6zM773 660h1v1h-1zM782 660h2v1h-2zM785 660h2v1h-2zM1230 660h1v1h-1zM1275 660h1v1h-1zM1351 660h2v1h-2zM31 661h1v1h-1zM66 661h2v1h-2zM464 661h1v1h-1zM510 661h2v1h-2zM513 661h2v1h-2zM528 661h2v1h-2zM720 661h5v1h-5zM731 661h4v1h-4zM774 661h1v1h-1zM781 661h1v1h-1zM787 661h2v1h-2zM1229 661h1v1h-1zM1271 661h1v1h-1zM1273 661h2v1h-2zM1347 661h4v1h-4zM30 662h1v1h-1zM45 662h1v1h-1zM68 662h2v1h-2zM96 662h5v1h-5zM509 662h1v1h-1zM515 662h2v1h-2zM526 662h2v1h-2zM530 662h2v1h-2zM735 662h3v1h-3zM747 662h1v1h-1zM779 662h2v1h-2zM789 662h1v1h-1zM1272 662h1v1h-1zM1319 662h11v1h-11zM1343 662h4v1h-4zM29 663h1v1h-1zM62 663h1v1h-1zM70 663h2v1h-2zM94 663h2v1h-2zM101 663h3v1h-3zM507 663h2v1h-2zM517 663h1v1h-1zM524 663h2v1h-2zM532 663h2v1h-2zM645 663h4v1h-4zM738 663h3v1h-3zM746 663h1v1h-1zM777 663h2v1h-2zM790 663h2v1h-2zM1317 663h2v1h-2zM1330 663h3v1h-3zM1341 663h2v1h-2zM27 664h2v1h-2zM61 664h1v1h-1zM72 664h2v1h-2zM93 664h1v1h-1zM505 664h2v1h-2zM518 664h2v1h-2zM522 664h2v1h-2zM534 664h2v1h-2zM639 664h6v1h-6zM741 664h2v1h-2zM745 664h1v1h-1zM776 664h1v1h-1zM1227 664h1v1h-1zM1314 664h3v1h-3zM1333 664h2v1h-2zM1338 664h3v1h-3zM26 665h1v1h-1zM74 665h3v1h-3zM91 665h2v1h-2zM503 665h2v1h-2zM520 665h2v1h-2zM536 665h1v1h-1zM624 665h3v1h-3zM637 665h2v1h-2zM743 665h2v1h-2zM832 665h2v1h-2zM1226 665h1v1h-1zM1312 665h2v1h-2zM1335 665h3v1h-3zM25 666h1v1h-1zM77 666h2v1h-2zM89 666h2v1h-2zM501 666h2v1h-2zM622 666h2v1h-2zM627 666h4v1h-4zM634 666h3v1h-3zM834 666h2v1h-2zM23 667h2v1h-2zM48 667h2v1h-2zM59 667h1v1h-1zM79 667h10v1h-10zM498 667h3v1h-3zM620 667h2v1h-2zM631 667h3v1h-3zM836 667h2v1h-2zM928 667h3v1h-3zM7 668h6v1h-6zM19 668h4v1h-4zM50 668h2v1h-2zM58 668h1v1h-1zM487 668h11v1h-11zM618 668h2v1h-2zM838 668h2v1h-2zM927 668h1v1h-1zM931 668h4v1h-4zM1151 668h4v1h-4zM1221 668h4v1h-4zM3 669h4v1h-4zM13 669h6v1h-6zM52 669h2v1h-2zM483 669h4v1h-4zM616 669h2v1h-2zM935 669h2v1h-2zM1147 669h4v1h-4zM1155 669h4v1h-4zM1216 669h5v1h-5zM0 670h3v1h-3zM54 670h2v1h-2zM481 670h2v1h-2zM615 670h1v1h-1zM652 670h1v1h-1zM1143 670h4v1h-4zM1159 670h1v1h-1zM56 671h1v1h-1zM321 671h2v1h-2zM614 671h1v1h-1zM925 671h1v1h-1zM1139 671h4v1h-4zM323 672h4v1h-4zM613 672h1v1h-1zM924 672h1v1h-1zM938 672h1v1h-1zM1136 672h3v1h-3zM327 673h2v1h-2zM448 673h2v1h-2zM612 673h1v1h-1zM923 673h1v1h-1zM939 673h1v1h-1zM1134 673h2v1h-2zM450 674h3v1h-3zM584 674h2v1h-2zM611 674h1v1h-1zM1133 674h1v1h-1zM453 675h2v1h-2zM582 675h2v1h-2zM586 675h3v1h-3zM610 675h1v1h-1zM679 675h22v1h-22zM1131 675h2v1h-2zM455 676h2v1h-2zM581 676h1v1h-1zM589 676h2v1h-2zM609 676h1v1h-1zM677 676h2v1h-2zM701 676h12v1h-12zM921 676h1v1h-1zM941 676h1v1h-1zM1129 676h2v1h-2zM560 677h2v1h-2zM579 677h2v1h-2zM591 677h3v1h-3zM607 677h2v1h-2zM656 677h5v1h-5zM674 677h3v1h-3zM917 677h4v1h-4zM942 677h1v1h-1zM1128 677h1v1h-1zM558 678h2v1h-2zM562 678h2v1h-2zM577 678h2v1h-2zM594 678h3v1h-3zM605 678h2v1h-2zM661 678h13v1h-13zM912 678h5v1h-5zM1127 678h1v1h-1zM557 679h1v1h-1zM564 679h2v1h-2zM575 679h2v1h-2zM597 679h2v1h-2zM602 679h3v1h-3zM1125 679h2v1h-2zM332 680h1v1h-1zM544 680h3v1h-3zM555 680h2v1h-2zM566 680h2v1h-2zM571 680h4v1h-4zM599 680h3v1h-3zM944 680h2v1h-2zM1078 680h1v1h-1zM1124 680h1v1h-1zM547 681h4v1h-4zM553 681h2v1h-2zM568 681h3v1h-3zM946 681h3v1h-3zM959 681h10v1h-10zM1048 681h1v1h-1zM1123 681h1v1h-1zM113 682h1v1h-1zM551 682h2v1h-2zM864 682h1v1h-1zM949 682h2v1h-2zM955 682h4v1h-4zM969 682h1v1h-1zM1047 682h1v1h-1zM1121 682h2v1h-2zM114 683h1v1h-1zM862 683h2v1h-2zM865 683h2v1h-2zM951 683h4v1h-4zM970 683h1v1h-1zM1076 683h1v1h-1zM1120 683h1v1h-1zM115 684h1v1h-1zM860 684h2v1h-2zM867 684h2v1h-2zM971 684h2v1h-2zM858 685h2v1h-2zM869 685h1v1h-1zM973 685h1v1h-1zM999 685h2v1h-2zM1045 685h1v1h-1zM136 686h1v1h-1zM853 686h5v1h-5zM870 686h2v1h-2zM974 686h1v1h-1zM995 686h4v1h-4zM1001 686h1v1h-1zM1044 686h1v1h-1zM1051 686h1v1h-1zM1074 686h1v1h-1zM117 687h1v1h-1zM134 687h2v1h-2zM137 687h1v1h-1zM336 687h1v1h-1zM352 687h1v1h-1zM849 687h4v1h-4zM872 687h1v1h-1zM975 687h1v1h-1zM991 687h4v1h-4zM1043 687h1v1h-1zM118 688h1v1h-1zM132 688h2v1h-2zM337 688h2v1h-2zM351 688h1v1h-1zM353 688h1v1h-1zM440 688h1v1h-1zM873 688h1v1h-1zM976 688h3v1h-3zM989 688h2v1h-2zM1117 688h1v1h-1zM119 689h1v1h-1zM130 689h2v1h-2zM339 689h1v1h-1zM349 689h2v1h-2zM354 689h1v1h-1zM439 689h1v1h-1zM874 689h1v1h-1zM979 689h4v1h-4zM986 689h3v1h-3zM1003 689h1v1h-1zM1053 689h1v1h-1zM1071 689h2v1h-2zM120 690h10v1h-10zM139 690h1v1h-1zM340 690h1v1h-1zM348 690h1v1h-1zM355 690h2v1h-2zM437 690h2v1h-2zM875 690h1v1h-1zM983 690h3v1h-3zM1004 690h1v1h-1zM1041 690h1v1h-1zM1067 690h4v1h-4zM140 691h1v1h-1zM341 691h2v1h-2zM347 691h1v1h-1zM357 691h1v1h-1zM436 691h1v1h-1zM876 691h1v1h-1zM1005 691h1v1h-1zM1031 691h10v1h-10zM1063 691h4v1h-4zM1115 691h1v1h-1zM141 692h1v1h-1zM343 692h1v1h-1zM345 692h2v1h-2zM358 692h1v1h-1zM435 692h1v1h-1zM877 692h1v1h-1zM1027 692h4v1h-4zM1061 692h2v1h-2zM344 693h1v1h-1zM359 693h1v1h-1zM433 693h2v1h-2zM878 693h1v1h-1zM1024 693h3v1h-3zM1058 693h3v1h-3zM360 694h1v1h-1zM432 694h1v1h-1zM879 694h1v1h-1zM885 694h8v1h-8zM901 694h3v1h-3zM1007 694h1v1h-1zM1022 694h2v1h-2zM1056 694h2v1h-2zM143 695h1v1h-1zM208 695h2v1h-2zM361 695h1v1h-1zM431 695h1v1h-1zM880 695h5v1h-5zM893 695h8v1h-8zM1008 695h3v1h-3zM1020 695h2v1h-2zM1089 695h1v1h-1zM144 696h5v1h-5zM207 696h1v1h-1zM210 696h2v1h-2zM362 696h1v1h-1zM413 696h5v1h-5zM429 696h2v1h-2zM1011 696h4v1h-4zM1018 696h2v1h-2zM1090 696h2v1h-2zM1109 696h4v1h-4zM149 697h8v1h-8zM212 697h2v1h-2zM248 697h2v1h-2zM363 697h2v1h-2zM376 697h1v1h-1zM407 697h6v1h-6zM418 697h2v1h-2zM428 697h1v1h-1zM1015 697h3v1h-3zM1092 697h2v1h-2zM1103 697h6v1h-6zM157 698h8v1h-8zM214 698h2v1h-2zM246 698h2v1h-2zM250 698h3v1h-3zM310 698h2v1h-2zM365 698h1v1h-1zM374 698h2v1h-2zM377 698h2v1h-2zM403 698h4v1h-4zM420 698h2v1h-2zM427 698h1v1h-1zM1094 698h2v1h-2zM1099 698h4v1h-4zM165 699h5v1h-5zM205 699h1v1h-1zM216 699h1v1h-1zM244 699h2v1h-2zM253 699h2v1h-2zM309 699h1v1h-1zM366 699h1v1h-1zM372 699h2v1h-2zM379 699h2v1h-2zM397 699h6v1h-6zM422 699h2v1h-2zM425 699h2v1h-2zM1096 699h3v1h-3zM170 700h3v1h-3zM192 700h1v1h-1zM204 700h1v1h-1zM242 700h2v1h-2zM255 700h3v1h-3zM295 700h4v1h-4zM307 700h2v1h-2zM367 700h1v1h-1zM370 700h2v1h-2zM381 700h1v1h-1zM391 700h6v1h-6zM424 700h1v1h-1zM173 701h2v1h-2zM191 701h1v1h-1zM193 701h2v1h-2zM203 701h1v1h-1zM240 701h2v1h-2zM258 701h2v1h-2zM291 701h4v1h-4zM299 701h4v1h-4zM305 701h2v1h-2zM368 701h2v1h-2zM382 701h2v1h-2zM387 701h4v1h-4zM175 702h3v1h-3zM189 702h2v1h-2zM195 702h2v1h-2zM260 702h2v1h-2zM279 702h12v1h-12zM303 702h2v1h-2zM384 702h3v1h-3zM178 703h2v1h-2zM188 703h1v1h-1zM197 703h1v1h-1zM262 703h2v1h-2zM275 703h4v1h-4zM180 704h2v1h-2zM187 704h1v1h-1zM198 704h2v1h-2zM201 704h1v1h-1zM264 704h11v1h-11zM182 705h2v1h-2zM185 705h2v1h-2zM200 705h1v1h-1zM184 706h1v1h-1zM220 706h1v1h-1zM236 708h1v1h-1zM224 713h3v1h-3zM227 714h4v1h-4zM231 715h2v1h-2z" fill="#1e90ff" shape-rendering="crispEdges"/>
<text x="4" y="614" fill="#000" font-size="10.4" text-anchor="start" font-weight="normal" textLength="68" lengthAdjust="spacingAndGlyphs">RSI(14) 61.0309</text>
<text x="1589.5" y="611.8" fill="#000" font-size="10.4" text-anchor="start" font-weight="normal" textLength="15.3" lengthAdjust="spacingAndGlyphs">100</text>
<text x="1589" y="635.7" fill="#000" font-size="10.4" text-anchor="start" font-weight="normal" textLength="10.2" lengthAdjust="spacingAndGlyphs">80</text>
<text x="1589" y="679.8" fill="#000" font-size="10.4" text-anchor="start" font-weight="normal" textLength="10.2" lengthAdjust="spacingAndGlyphs">50</text>
<text x="1589" y="731.8" fill="#000" font-size="10.4" text-anchor="start" font-weight="normal" textLength="10.2" lengthAdjust="spacingAndGlyphs">15</text>
<text x="1589" y="748" fill="#000" font-size="10.4" text-anchor="start" font-weight="normal" textLength="5.1" lengthAdjust="spacingAndGlyphs">0</text>
<g shape-rendering="crispEdges">
<rect x="0" y="752" width="1" height="3" fill="#000"/>
<rect x="64" y="752" width="1" height="3" fill="#000"/>
<rect x="128" y="752" width="1" height="3" fill="#000"/>
<rect x="192" y="752" width="1" height="3" fill="#000"/>
<rect x="256" y="752" width="1" height="3" fill="#000"/>
<rect x="320" y="752" width="1" height="3" fill="#000"/>
<rect x="384" y="752" width="1" height="3" fill="#000"/>
<rect x="448" y="752" width="1" height="3" fill="#000"/>
<rect x="512" y="752" width="1" height="3" fill="#000"/>
<rect x="576" y="752" width="1" height="3" fill="#000"/>
<rect x="640" y="752" width="1" height="3" fill="#000"/>
<rect x="704" y="752" width="1" height="3" fill="#000"/>
<rect x="768" y="752" width="1" height="3" fill="#000"/>
<rect x="832" y="752" width="1" height="3" fill="#000"/>
<rect x="896" y="752" width="1" height="3" fill="#000"/>
<rect x="960" y="752" width="1" height="3" fill="#000"/>
<rect x="1024" y="752" width="1" height="3" fill="#000"/>
<rect x="1088" y="752" width="1" height="3" fill="#000"/>
<rect x="1152" y="752" width="1" height="3" fill="#000"/>
<rect x="1216" y="752" width="1" height="3" fill="#000"/>
<rect x="1280" y="752" width="1" height="3" fill="#000"/>
<rect x="1344" y="752" width="1" height="3" fill="#000"/>
</g>
<text x="-1.2" y="764" fill="#000" font-size="10.4" text-anchor="start" font-weight="normal" textLength="51.7" lengthAdjust="spacingAndGlyphs">19 Sep 2018</text>
<text x="62.8" y="764" fill="#000" font-size="10.4" text-anchor="start" font-weight="normal" textLength="55.0" lengthAdjust="spacingAndGlyphs">26 Sep 01:15</text>
<text x="126.8" y="764" fill="#000" font-size="10.4" text-anchor="start" font-weight="normal" textLength="48.6" lengthAdjust="spacingAndGlyphs">3 Oct 01:15</text>
<text x="190.8" y="764" fill="#000" font-size="10.4" text-anchor="start" font-weight="normal" textLength="48.6" lengthAdjust="spacingAndGlyphs">9 Oct 01:15</text>
<text x="254.8" y="764" fill="#000" font-size="10.4" text-anchor="start" font-weight="normal" textLength="53.7" lengthAdjust="spacingAndGlyphs">15 Oct 01:15</text>
<text x="318.8" y="764" fill="#000" font-size="10.4" text-anchor="start" font-weight="normal" textLength="53.7" lengthAdjust="spacingAndGlyphs">22 Oct 01:15</text>
<text x="382.8" y="764" fill="#000" font-size="10.4" text-anchor="start" font-weight="normal" textLength="53.7" lengthAdjust="spacingAndGlyphs">26 Oct 01:15</text>
<text x="446.8" y="764" fill="#000" font-size="10.4" text-anchor="start" font-weight="normal" textLength="50.5" lengthAdjust="spacingAndGlyphs">1 Nov 01:15</text>
<text x="510.8" y="764" fill="#000" font-size="10.4" text-anchor="start" font-weight="normal" textLength="50.5" lengthAdjust="spacingAndGlyphs">7 Nov 01:15</text>
<text x="574.8" y="764" fill="#000" font-size="10.4" text-anchor="start" font-weight="normal" textLength="55.6" lengthAdjust="spacingAndGlyphs">13 Nov 01:15</text>
<text x="638.8" y="764" fill="#000" font-size="10.4" text-anchor="start" font-weight="normal" textLength="55.6" lengthAdjust="spacingAndGlyphs">19 Nov 01:15</text>
<text x="702.8" y="764" fill="#000" font-size="10.4" text-anchor="start" font-weight="normal" textLength="55.6" lengthAdjust="spacingAndGlyphs">23 Nov 01:15</text>
<text x="766.8" y="764" fill="#000" font-size="10.4" text-anchor="start" font-weight="normal" textLength="55.6" lengthAdjust="spacingAndGlyphs">29 Nov 01:15</text>
<text x="830.8" y="764" fill="#000" font-size="10.4" text-anchor="start" font-weight="normal" textLength="50.1" lengthAdjust="spacingAndGlyphs">5 Dec 01:15</text>
<text x="894.8" y="764" fill="#000" font-size="10.4" text-anchor="start" font-weight="normal" textLength="55.2" lengthAdjust="spacingAndGlyphs">11 Dec 01:15</text>
<text x="958.8" y="764" fill="#000" font-size="10.4" text-anchor="start" font-weight="normal" textLength="55.2" lengthAdjust="spacingAndGlyphs">17 Dec 01:15</text>
<text x="1022.8" y="764" fill="#000" font-size="10.4" text-anchor="start" font-weight="normal" textLength="55.2" lengthAdjust="spacingAndGlyphs">21 Dec 01:15</text>
<text x="1086.8" y="764" fill="#000" font-size="10.4" text-anchor="start" font-weight="normal" textLength="48.6" lengthAdjust="spacingAndGlyphs">2 Jan 01:15</text>
<text x="1150.8" y="764" fill="#000" font-size="10.4" text-anchor="start" font-weight="normal" textLength="48.6" lengthAdjust="spacingAndGlyphs">8 Jan 01:15</text>
<text x="1214.8" y="764" fill="#000" font-size="10.4" text-anchor="start" font-weight="normal" textLength="53.7" lengthAdjust="spacingAndGlyphs">14 Jan 01:15</text>
<text x="1278.8" y="764" fill="#000" font-size="10.4" text-anchor="start" font-weight="normal" textLength="53.7" lengthAdjust="spacingAndGlyphs">18 Jan 01:15</text>
<text x="1342.8" y="764" fill="#000" font-size="10.4" text-anchor="start" font-weight="normal" textLength="53.7" lengthAdjust="spacingAndGlyphs">24 Jan 01:15</text>
<path d="M3 37.5 L10.5 37.5 L6.75 33 Z" fill="#000"/>
<text x="15" y="37.5" fill="#000" font-size="10.4" text-anchor="start" font-weight="normal" textLength="188" lengthAdjust="spacingAndGlyphs" xml:space="preserve">HK50-,H4&#160; 27062.0 27125.5 27025.5 27089.0</text>
</svg>
<svg id="panel" width="226" height="72" viewBox="0 42 226 72" style="position:absolute;left:0;top:42px" font-family="Liberation Sans, sans-serif">
<defs><linearGradient id="red" gradientUnits="userSpaceOnUse" x1="0" y1="46" x2="0" y2="110"><stop offset="0" stop-color="#fa5454"/><stop offset="0.35" stop-color="#e03030"/><stop offset="0.7" stop-color="#c41414"/><stop offset="1" stop-color="#ac0000"/></linearGradient><linearGradient id="btn" x1="0" y1="0" x2="0" y2="1"><stop offset="0" stop-color="#f4f4f4"/><stop offset="1" stop-color="#dedede"/></linearGradient></defs>
<g shape-rendering="crispEdges">
<rect x="0" y="43" width="225" height="69" fill="#fff"/>
<path d="M3 46 H55 V70 H112 V110 H3 Z" fill="url(#red)"/>
<path d="M170 46 H222 V110 H114 V70 H170 Z" fill="url(#red)"/>
<rect x="3" y="46" width="52" height="1" fill="#c81818" opacity="0.6"/><rect x="170" y="46" width="52" height="1" fill="#c81818" opacity="0.6"/>
<rect x="3" y="46" width="1" height="64" fill="#b81010" opacity="0.5"/>
<rect x="7" y="69" width="44" height="1" fill="#a80808"/><rect x="7" y="70" width="44" height="1" fill="#f89090"/>
<rect x="174" y="69" width="44" height="1" fill="#a80808"/><rect x="174" y="70" width="44" height="1" fill="#f89090"/>
<rect x="57" y="46" width="111" height="22" fill="#a8a8b0"/>
<rect x="58" y="47" width="109" height="20" fill="#fff"/>
<rect x="58" y="47" width="20" height="20" fill="url(#btn)"/>
<rect x="147" y="47" width="20" height="20" fill="url(#btn)"/>
<rect x="78" y="47" width="1" height="20" fill="#a8a8b0"/><rect x="146" y="47" width="1" height="20" fill="#a8a8b0"/>
</g>
<path d="M64.6 55 L70 55 L67.3 58 Z" fill="#000"/>
<path d="M153.8 58 L159.2 58 L156.5 55 Z" fill="#000"/>
<text x="143" y="61.2" font-size="12" text-anchor="end" fill="#000" textLength="23.5" lengthAdjust="spacingAndGlyphs">0.10</text>
<text x="15" y="61.8" font-size="11.8" fill="#fff" textLength="26" lengthAdjust="spacingAndGlyphs">SELL</text>
<text x="183" y="61.8" font-size="11.8" fill="#fff" textLength="24" lengthAdjust="spacingAndGlyphs">BUY</text>
<text x="19.2" y="100.8" font-size="12" font-weight="bold" fill="#fff" textLength="35" lengthAdjust="spacingAndGlyphs">27087</text>
<text x="56.2" y="101.4" font-size="33" fill="#fff" textLength="25" lengthAdjust="spacingAndGlyphs">.5</text>
<text x="129.2" y="100.8" font-size="12" font-weight="bold" fill="#fff" textLength="35" lengthAdjust="spacingAndGlyphs">27102</text>
<text x="166.8" y="101.4" font-size="33" fill="#fff" textLength="25" lengthAdjust="spacingAndGlyphs">.5</text>
</svg>
<svg id="tb" width="1626" height="26" viewBox="0 0 1626 26" style="position:absolute;left:0;top:0" font-family="Liberation Sans, sans-serif">
<defs><linearGradient id="gold" x1="0" y1="0" x2="1" y2="1"><stop offset="0" stop-color="#ffe060"/><stop offset="0.5" stop-color="#f0b818"/><stop offset="1" stop-color="#b87808"/></linearGradient><linearGradient id="cloud" x1="0" y1="0" x2="0" y2="1"><stop offset="0" stop-color="#ffffff"/><stop offset="1" stop-color="#b8c8e0"/></linearGradient><linearGradient id="grn" x1="0" y1="0" x2="1" y2="0"><stop offset="0" stop-color="#10b010"/><stop offset="0.5" stop-color="#90ff90"/><stop offset="1" stop-color="#10b010"/></linearGradient><radialGradient id="lens" cx="0.4" cy="0.35" r="0.7"><stop offset="0" stop-color="#ffffff"/><stop offset="1" stop-color="#bfe4f8"/></radialGradient><linearGradient id="clk" x1="0" y1="0" x2="0" y2="1"><stop offset="0" stop-color="#2a90f0"/><stop offset="1" stop-color="#0048a8"/></linearGradient><linearGradient id="hat" x1="0" y1="0" x2="0" y2="1"><stop offset="0" stop-color="#8cd0f0"/><stop offset="1" stop-color="#2a88c0"/></linearGradient><linearGradient id="face" x1="0" y1="0" x2="1" y2="1"><stop offset="0" stop-color="#fff080"/><stop offset="1" stop-color="#e0a010"/></linearGradient><pattern id="hatch" width="2" height="2" patternUnits="userSpaceOnUse"><rect width="2" height="2" fill="#ffffff"/><rect width="1" height="1" fill="#f0f0f0"/><rect x="1" y="1" width="1" height="1" fill="#f0f0f0"/></pattern></defs>
<g shape-rendering="crispEdges">
<rect x="0" y="0" width="1626" height="22" fill="#f0f0f0"/>
<rect x="0" y="21" width="1626" height="1" fill="#f6f6f6"/>
<rect x="0" y="22" width="1626" height="1" fill="#a0a0a0"/>
<rect x="0" y="23" width="1626" height="1" fill="#696969"/>
<rect x="0" y="24" width="1626" height="2" fill="#ffffff"/>
<rect x="222" y="0" width="23" height="20" fill="url(#hatch)"/>
<rect x="245" y="0" width="2" height="22" fill="#ffffff"/>
<rect x="222" y="20" width="25" height="2" fill="#ffffff"/>
<rect x="374" y="0" width="23" height="20" fill="url(#hatch)"/>
<rect x="397" y="0" width="2" height="22" fill="#ffffff"/>
<rect x="374" y="20" width="25" height="2" fill="#ffffff"/>
<rect x="402" y="0" width="23" height="20" fill="url(#hatch)"/>
<rect x="425" y="0" width="2" height="22" fill="#ffffff"/>
<rect x="402" y="20" width="25" height="2" fill="#ffffff"/>
<rect x="562" y="0" width="23" height="20" fill="url(#hatch)"/>
<rect x="585" y="0" width="2" height="22" fill="#ffffff"/>
<rect x="562" y="20" width="25" height="2" fill="#ffffff"/>
<rect x="1008" y="0" width="23" height="20" fill="url(#hatch)"/>
<rect x="1031" y="0" width="2" height="22" fill="#ffffff"/>
<rect x="1008" y="20" width="25" height="2" fill="#ffffff"/>
<rect x="183" y="0" width="1" height="20" fill="#a0a0a0"/>
<rect x="184" y="0" width="1" height="20" fill="#fafafa"/>
<rect x="221" y="0" width="1" height="20" fill="#a0a0a0"/>
<rect x="222" y="0" width="1" height="20" fill="#fafafa"/>
<rect x="278" y="0" width="1" height="20" fill="#a0a0a0"/>
<rect x="279" y="0" width="1" height="20" fill="#fafafa"/>
<rect x="368" y="0" width="1" height="20" fill="#a0a0a0"/>
<rect x="369" y="0" width="1" height="20" fill="#fafafa"/>
<rect x="373" y="0" width="1" height="20" fill="#a0a0a0"/>
<rect x="374" y="0" width="1" height="20" fill="#fafafa"/>
<rect x="401" y="0" width="1" height="20" fill="#a0a0a0"/>
<rect x="402" y="0" width="1" height="20" fill="#fafafa"/>
<rect x="430" y="0" width="1" height="20" fill="#a0a0a0"/>
<rect x="431" y="0" width="1" height="20" fill="#fafafa"/>
<rect x="551" y="0" width="1" height="20" fill="#a0a0a0"/>
<rect x="552" y="0" width="1" height="20" fill="#fafafa"/>
<rect x="561" y="0" width="1" height="20" fill="#a0a0a0"/>
<rect x="562" y="0" width="1" height="20" fill="#fafafa"/>
<rect x="618" y="0" width="1" height="20" fill="#a0a0a0"/>
<rect x="619" y="0" width="1" height="20" fill="#fafafa"/>
<rect x="857" y="0" width="1" height="20" fill="#a0a0a0"/>
<rect x="858" y="0" width="1" height="20" fill="#fafafa"/>
<rect x="1007" y="0" width="1" height="20" fill="#a0a0a0"/>
<rect x="1008" y="0" width="1" height="20" fill="#fafafa"/>
<rect x="1118" y="0" width="1" height="20" fill="#a0a0a0"/>
<rect x="1119" y="0" width="1" height="20" fill="#fafafa"/>
<rect x="187" y="1" width="4" height="1" fill="#a6a6a6"/>
<rect x="187" y="3" width="4" height="1" fill="#a6a6a6"/>
<rect x="187" y="5" width="4" height="1" fill="#a6a6a6"/>
<rect x="187" y="7" width="4" height="1" fill="#a6a6a6"/>
<rect x="187" y="9" width="4" height="1" fill="#a6a6a6"/>
<rect x="187" y="11" width="4" height="1" fill="#a6a6a6"/>
<rect x="187" y="13" width="4" height="1" fill="#a6a6a6"/>
<rect x="187" y="15" width="4" height="1" fill="#a6a6a6"/>
<rect x="187" y="17" width="4" height="1" fill="#a6a6a6"/>
<rect x="187" y="19" width="4" height="1" fill="#a6a6a6"/>
<rect x="555" y="1" width="4" height="1" fill="#a6a6a6"/>
<rect x="555" y="3" width="4" height="1" fill="#a6a6a6"/>
<rect x="555" y="5" width="4" height="1" fill="#a6a6a6"/>
<rect x="555" y="7" width="4" height="1" fill="#a6a6a6"/>
<rect x="555" y="9" width="4" height="1" fill="#a6a6a6"/>
<rect x="555" y="11" width="4" height="1" fill="#a6a6a6"/>
<rect x="555" y="13" width="4" height="1" fill="#a6a6a6"/>
<rect x="555" y="15" width="4" height="1" fill="#a6a6a6"/>
<rect x="555" y="17" width="4" height="1" fill="#a6a6a6"/>
<rect x="555" y="19" width="4" height="1" fill="#a6a6a6"/>
<rect x="861" y="1" width="4" height="1" fill="#a6a6a6"/>
<rect x="861" y="3" width="4" height="1" fill="#a6a6a6"/>
<rect x="861" y="5" width="4" height="1" fill="#a6a6a6"/>
<rect x="861" y="7" width="4" height="1" fill="#a6a6a6"/>
<rect x="861" y="9" width="4" height="1" fill="#a6a6a6"/>
<rect x="861" y="11" width="4" height="1" fill="#a6a6a6"/>
<rect x="861" y="13" width="4" height="1" fill="#a6a6a6"/>
<rect x="861" y="15" width="4" height="1" fill="#a6a6a6"/>
<rect x="861" y="17" width="4" height="1" fill="#a6a6a6"/>
<rect x="861" y="19" width="4" height="1" fill="#a6a6a6"/>
</g>
<text x="0" y="13" font-size="12" fill="#000" style="font-family:'Liberation Sans','Noto Sans CJK SC',sans-serif">单</text>
<text x="129.8" y="13" font-size="11.4" fill="#000" textLength="45" lengthAdjust="spacingAndGlyphs" style="font-family:'Liberation Sans','Noto Sans CJK SC',sans-serif">自动交易</text>
<path d="M24.4 12.6 L32.2 18.4 L40.2 11.4 L39.6 10.2 L32 16.6 L24.6 11.6 Z" fill="#c8901c" stroke="#9a5c08" stroke-width="0.7" stroke-linejoin="round"/>
<path d="M25.2 12.4 L32.2 17.3 L39.4 11.0" fill="none" stroke="#fbe9a8" stroke-width="0.9"/>
<path d="M29.2 3 L39.7 10.4 L32 16.6 L24.3 11.6 Z" fill="url(#gold)" stroke="#a06408" stroke-width="0.9" stroke-linejoin="round"/>
<path d="M29.6 4.4 L27.4 8.4" fill="none" stroke="#fff4b0" stroke-width="0.9" opacity="0.8"/>
<path d="M54.5 3.5 L58 2.3 L65 3.2 L65 11.5 L54.5 11.5 Z" fill="#1e8ef0" stroke="#1068c8" stroke-width="0.8"/>
<path d="M54.5 3.5 L57.5 5 L57.5 11.5 L54.5 11.5 Z" fill="#58b8ff"/>
<rect x="59" y="5.8" width="5" height="1.6" fill="#d8ecff"/>
<path d="M54.8 17.3 C51.8 17.3 51.6 13.6 54.4 13.2 C54.4 11 57.6 10.4 58.8 12 C60 9.8 64 10.4 64 12.8 C67.6 12.4 68.4 17.3 65 17.3 Z" fill="url(#cloud)" stroke="#4870b0" stroke-width="0.9"/>
<g fill="none" stroke-width="1.4" opacity="0.8"><path d="M88 2.4 A7.6 7.6 0 0 0 88 17.6" stroke="#5080d8" opacity="0.75"/><path d="M88 4.8 A5.2 5.2 0 0 0 88 15.2" stroke="#5080d8" opacity="0.9"/><path d="M88 7.2 A2.8 2.8 0 0 0 88 12.8" stroke="#3060d0"/><path d="M88 2.4 A7.6 7.6 0 0 1 88 17.6" stroke="#60a860" opacity="0.75"/><path d="M88 4.8 A5.2 5.2 0 0 1 88 15.2" stroke="#60a860" opacity="0.9"/><path d="M88 7.2 A2.8 2.8 0 0 1 88 12.8" stroke="#409040"/></g>
<path d="M88 10 L95.4 12 A7.6 7.6 0 0 1 88 17.6 Z" fill="#60b060" opacity="0.45"/>
<circle cx="88" cy="9.6" r="1.9" fill="#2858d8"/>
<path d="M88.4 10.4 L88.4 17.4 L91.4 16.4" fill="none" stroke="#18a818" stroke-width="1.5"/>
<path d="M108.2 9 L121.8 9 L121 13 L114.6 18.2 L112 16.8 Z" fill="url(#face)" stroke="#d8a018" stroke-width="0.6"/>
<ellipse cx="115" cy="6.6" rx="7.8" ry="2.9" fill="url(#hat)" stroke="#2880b8" stroke-width="0.6"/>
<ellipse cx="114.6" cy="4.6" rx="3.6" ry="2.6" fill="#6cc0e8"/>
<circle cx="119.6" cy="13.6" r="4.1" fill="#e02010" stroke="#b01000" stroke-width="0.6"/>
<rect x="117.8" y="11.8" width="3.6" height="3.6" fill="#fff"/>
<g shape-rendering="crispEdges" fill="#505050"><rect x="201" y="4" width="1" height="14"/><rect x="199" y="15" width="14" height="1"/><rect x="200" y="5" width="3" height="1"/><rect x="211" y="14" width="1" height="3"/></g>
<g shape-rendering="crispEdges" fill="#008000"><rect x="207" y="5" width="1" height="9"/><rect x="207" y="6" width="3" height="1"/><rect x="205" y="12" width="3" height="1"/></g>
<g shape-rendering="crispEdges" fill="#505050"><rect x="229" y="4" width="1" height="14"/><rect x="227" y="15" width="14" height="1"/><rect x="228" y="5" width="3" height="1"/><rect x="239" y="14" width="1" height="3"/></g>
<g shape-rendering="crispEdges"><rect x="235" y="2" width="1" height="12" fill="#009000"/><rect x="233" y="4" width="5" height="8" fill="#00a000"/><rect x="234" y="5" width="3" height="6" fill="#70f070"/></g>
<g shape-rendering="crispEdges" fill="#505050"><rect x="257" y="4" width="1" height="14"/><rect x="255" y="15" width="14" height="1"/><rect x="256" y="5" width="3" height="1"/><rect x="267" y="14" width="1" height="3"/></g>
<path d="M256 12.6 C258.5 11.5 260 7.2 262.2 7.4 C264 7.6 265 10.2 267.8 11" fill="none" stroke="#109010" stroke-width="1.2"/>
<path d="M296.70000000000005 11.2 L301.90000000000003 16.2" stroke="#b08008" stroke-width="3.2" stroke-linecap="butt"/>
<path d="M296.90000000000003 11.2 L301.70000000000005 15.9" stroke="#f4d848" stroke-width="1.6" stroke-linecap="butt"/>
<circle cx="293.1" cy="7.8" r="5.6" fill="url(#lens)" stroke="#3878c0" stroke-width="1.1"/>
<rect x="289.90000000000003" y="6.9" width="6.4" height="1.8" fill="#3a88b0"/>
<rect x="292.20000000000005" y="4.6" width="1.8" height="6.4" fill="#3a88b0"/>
<path d="M324.70000000000005 11.2 L329.90000000000003 16.2" stroke="#b08008" stroke-width="3.2" stroke-linecap="butt"/>
<path d="M324.90000000000003 11.2 L329.70000000000005 15.9" stroke="#f4d848" stroke-width="1.6" stroke-linecap="butt"/>
<circle cx="321.1" cy="7.8" r="5.6" fill="url(#lens)" stroke="#3878c0" stroke-width="1.1"/>
<rect x="317.90000000000003" y="6.9" width="6.4" height="1.8" fill="#3a88b0"/>
<rect x="343" y="2" width="8" height="8" fill="#3a9a1a"/>
<rect x="344" y="5.2" width="6" height="4.2" fill="#fff"/>
<rect x="345" y="6.4" width="4" height="1.1" fill="#3a9a1a" opacity="0.45"/>
<rect x="345.4" y="8.6" width="3.2" height="0.8" fill="#3a9a1a"/>
<rect x="344.2" y="3.2" width="1" height="1" fill="#fff" opacity="0.8"/>
<rect x="351" y="2" width="8" height="8" fill="#2050d0"/>
<rect x="352" y="5.2" width="6" height="4.2" fill="#fff"/>
<rect x="353" y="6.4" width="4" height="1.1" fill="#2050d0" opacity="0.45"/>
<rect x="353.4" y="8.6" width="3.2" height="0.8" fill="#2050d0"/>
<rect x="352.2" y="3.2" width="1" height="1" fill="#fff" opacity="0.8"/>
<rect x="343" y="10" width="8" height="8" fill="#2050d0"/>
<rect x="344" y="13.2" width="6" height="4.2" fill="#fff"/>
<rect x="345" y="14.4" width="4" height="1.1" fill="#2050d0" opacity="0.45"/>
<rect x="345.4" y="16.6" width="3.2" height="0.8" fill="#2050d0"/>
<rect x="344.2" y="11.2" width="1" height="1" fill="#fff" opacity="0.8"/>
<rect x="351" y="10" width="8" height="8" fill="#3a9a1a"/>
<rect x="352" y="13.2" width="6" height="4.2" fill="#fff"/>
<rect x="353" y="14.4" width="4" height="1.1" fill="#3a9a1a" opacity="0.45"/>
<rect x="353.4" y="16.6" width="3.2" height="0.8" fill="#3a9a1a"/>
<rect x="352.2" y="11.2" width="1" height="1" fill="#fff" opacity="0.8"/>
<g shape-rendering="crispEdges" fill="#505050"><rect x="381" y="4" width="1" height="14"/><rect x="379" y="15" width="14" height="1"/><rect x="380" y="5" width="3" height="1"/><rect x="391" y="14" width="1" height="3"/></g>
<path d="M386.2 6 L390.2 9.5 L386.2 13 Z" fill="#d8f8d8" stroke="#10a010" stroke-width="1.1"/>
<g shape-rendering="crispEdges" fill="#505050"><rect x="409" y="4" width="1" height="14"/><rect x="407" y="15" width="14" height="1"/><rect x="408" y="5" width="3" height="1"/><rect x="419" y="14" width="1" height="3"/></g>
<rect x="415" y="4" width="1" height="10" fill="#1870a0" shape-rendering="crispEdges"/>
<path d="M416.2 9.5 L419.6 6.6 L419 8.9 L421.4 8.9 L421.4 10.1 L419 10.1 L419.6 12.4 Z" fill="#d84000" stroke="#d84000" stroke-width="0.4"/>
<path d="M440.5 2.5 L448.5 2.5 L451.5 5.5 L451.5 15.5 L440.5 15.5 Z" fill="#fff" stroke="#909090" stroke-width="1"/>
<path d="M448.5 2.5 L448.5 5.5 L451.5 5.5" fill="#e0e0e0" stroke="#909090" stroke-width="0.8"/>
<path d="M444.5 5 C443 6 443 12 444.5 13" fill="none" stroke="#806020" stroke-width="0.9"/>
<path d="M448.6 8 L452 8 L452 12.2 L456.2 12.2 L456.2 15.6 L452 15.6 L452 19.6 L448.6 19.6 L448.6 15.6 L444.6 15.6 L444.6 12.2 L448.6 12.2 Z" fill="#30d030" stroke="#008800" stroke-width="0.9"/>
<path d="M449.6 9 L451 9 L451 13.2 L455.2 13.2" fill="none" stroke="#a0ffa0" stroke-width="0.8"/>
<path d="M461.7 9 L467.3 9 L464.5 12.2 Z" fill="#000"/>
<path d="M500.7 9 L506.3 9 L503.5 12.2 Z" fill="#000"/>
<path d="M539.8 9 L545.4 9 L542.5999999999999 12.2 Z" fill="#000"/>
<path d="M845.7 9 L851.3000000000001 9 L848.5 12.2 Z" fill="#000"/>
<circle cx="486" cy="9.9" r="6.7" fill="#f4f8fc" stroke="url(#clk)" stroke-width="2.7"/>
<path d="M485.6 6.2 L485.6 9.8 L488.2 9.8" fill="none" stroke="#202020" stroke-width="1.3"/>
<g fill="#8090a0"><rect x="485.6" y="4" width="0.8" height="1"/><rect x="491" y="9.5" width="1" height="0.8"/><rect x="480" y="9.5" width="1" height="0.8"/><rect x="482" y="5.6" width="0.8" height="0.8"/><rect x="489.4" y="5.6" width="0.8" height="0.8"/><rect x="482" y="13.4" width="0.8" height="0.8"/><rect x="489.4" y="13.4" width="0.8" height="0.8"/></g>
<circle cx="486" cy="13.4" r="0.7" fill="#60a0f0"/>
<rect x="517.5" y="3.5" width="15" height="13" fill="#fff" stroke="#3a78c8" stroke-width="1"/>
<rect x="517" y="3" width="16" height="2.6" fill="#3a78c8"/>
<rect x="518" y="11" width="14" height="1" fill="#a8c4e8" shape-rendering="crispEdges"/>
<path d="M519.5 9 L521 9 L523 7.6 L524.5 7.2 L526 8.2 L528 8.2 L529.5 7.4 L531 7.2" fill="none" stroke="#a02000" stroke-width="1"/>
<path d="M520 14.6 L522 13.6 L523.5 14.4 L525 14.4 L527.5 12.2 L529 12.6 L531 14.6" fill="none" stroke="#109020" stroke-width="1"/>
<path d="M569 3 L569 14 L571.6 11.6 L574.2 17.2 L576 16.4 L573.6 10.9 L577.2 10.6 Z" fill="#484848"/>
<g shape-rendering="crispEdges" fill="#484848"><rect x="601" y="3" width="1" height="6"/><rect x="601" y="12" width="1" height="6"/><rect x="594" y="10" width="6" height="1"/><rect x="603" y="10" width="6" height="1"/><rect x="601" y="10" width="1" height="1" fill="#909070"/></g>
<g shape-rendering="crispEdges" fill="#484848"><rect x="635" y="4" width="1" height="13"/><rect x="658" y="10" width="12" height="1"/></g>
<path d="M686.3 16.8 L698 5.2" stroke="#484848" stroke-width="1.1"/>
<g stroke="#404040" stroke-width="1" fill="none"><path d="M711.2 12.4 L720.6 4"/><path d="M716.2 17.2 L726.4 8"/><path d="M714.4 15.8 L716.2 8.4 M717.8 13.4 L719.6 5.8 M721.4 10.2 L723.4 2.4" stroke-width="1.3"/></g>
<text x="722.6" y="19" font-size="7" font-weight="bold" fill="#303030">E</text>
<g shape-rendering="crispEdges" fill="#404040">
<rect x="741" y="3" width="1" height="1"/>
<rect x="743" y="3" width="1" height="1"/>
<rect x="745" y="3" width="1" height="1"/>
<rect x="747" y="3" width="1" height="1"/>
<rect x="749" y="3" width="1" height="1"/>
<rect x="751" y="3" width="1" height="1"/>
<rect x="753" y="3" width="1" height="1"/>
<rect x="741" y="6" width="1" height="1"/>
<rect x="743" y="6" width="1" height="1"/>
<rect x="745" y="6" width="1" height="1"/>
<rect x="747" y="6" width="1" height="1"/>
<rect x="749" y="6" width="1" height="1"/>
<rect x="751" y="6" width="1" height="1"/>
<rect x="753" y="6" width="1" height="1"/>
<rect x="741" y="10" width="1" height="1"/>
<rect x="743" y="10" width="1" height="1"/>
<rect x="745" y="10" width="1" height="1"/>
<rect x="747" y="10" width="1" height="1"/>
<rect x="749" y="10" width="1" height="1"/>
<rect x="751" y="10" width="1" height="1"/>
<rect x="753" y="10" width="1" height="1"/>
<rect x="741" y="14" width="1" height="1"/>
<rect x="743" y="14" width="1" height="1"/>
<rect x="745" y="14" width="1" height="1"/>
<rect x="747" y="14" width="1" height="1"/>
<rect x="749" y="14" width="1" height="1"/>
</g>
<text x="750.6" y="19" font-size="7" font-weight="bold" fill="#303030">F</text>
<text x="771.4" y="15" font-size="12.8" fill="#505050" textLength="9" lengthAdjust="spacingAndGlyphs">A</text>
<rect x="798.5" y="4.5" width="11" height="12" fill="none" stroke="#404040" stroke-width="1" stroke-dasharray="1 1" shape-rendering="crispEdges"/>
<g shape-rendering="crispEdges" fill="#484848"><rect x="800" y="7" width="8" height="1.2"/><rect x="803.3" y="7" width="1.5" height="8"/><rect x="797" y="3" width="2" height="1"/></g>
<path d="M828.6 3.6 L832.4 7.2 L830.2 7.2 L830.2 8.8 L827 8.8 L827 7.2 L824.8 7.2 Z" fill="#484848"/>
<path d="M835.6 17.4 L839.4 13.8 L837.2 13.8 L837.2 12.2 L834 12.2 L834 13.8 L831.8 13.8 Z" fill="#484848"/>
<path d="M827 11.4 L829.6 13.6 L834.2 8.4" fill="none" stroke="#484848" stroke-width="1.2"/>
<text x="872.1" y="13.9" font-size="10.2" fill="#383838" textLength="13.2" lengthAdjust="spacingAndGlyphs">M1</text>
<text x="899.9" y="13.9" font-size="10.2" fill="#383838" textLength="13.3" lengthAdjust="spacingAndGlyphs">M5</text>
<text x="926.1" y="13.9" font-size="10.2" fill="#383838" textLength="18.3" lengthAdjust="spacingAndGlyphs">M15</text>
<text x="954.1" y="13.9" font-size="10.2" fill="#383838" textLength="18.3" lengthAdjust="spacingAndGlyphs">M30</text>
<text x="984.8" y="13.9" font-size="10.2" fill="#383838" textLength="12.5" lengthAdjust="spacingAndGlyphs">H1</text>
<text x="1012" y="13.9" font-size="10.2" fill="#383838" textLength="12.9" lengthAdjust="spacingAndGlyphs">H4</text>
<text x="1040.8" y="13.9" font-size="10.2" fill="#383838" textLength="12.5" lengthAdjust="spacingAndGlyphs">D1</text>
<text x="1068.8" y="13.9" font-size="10.2" fill="#383838" textLength="14.3" lengthAdjust="spacingAndGlyphs">W1</text>
<text x="1095.1" y="13.9" font-size="10.2" fill="#383838" textLength="14.9" lengthAdjust="spacingAndGlyphs">MN</text>
<circle cx="1588.8" cy="7.4" r="3.6" fill="#f8f8ff" stroke="#2858d0" stroke-width="1.2"/>
<path d="M1586 10.4 L1581 15.2" stroke="#2858d0" stroke-width="2.4" stroke-linecap="round"/>
<path d="M1616 8 C1614 2.5 1622 1.2 1626 2.6 L1626 11 L1624.2 13.4 L1623.6 11.4 C1620 12 1616.6 10.6 1616 8 Z" fill="#f4f4f8" stroke="#909098" stroke-width="0.9"/>
<path d="M1607.4 11.6 C1607 8 1611 6.8 1613 7 C1616.6 7 1618 10 1616.6 12.4 C1615.6 14 1613 14.6 1611.4 14.4 L1609.8 16.8 L1609.6 14.2 C1608.2 13.6 1607.4 12.8 1607.4 11.6 Z" fill="#fbfbfd" stroke="#808088" stroke-width="0.9"/>
</svg>
</body></html>
